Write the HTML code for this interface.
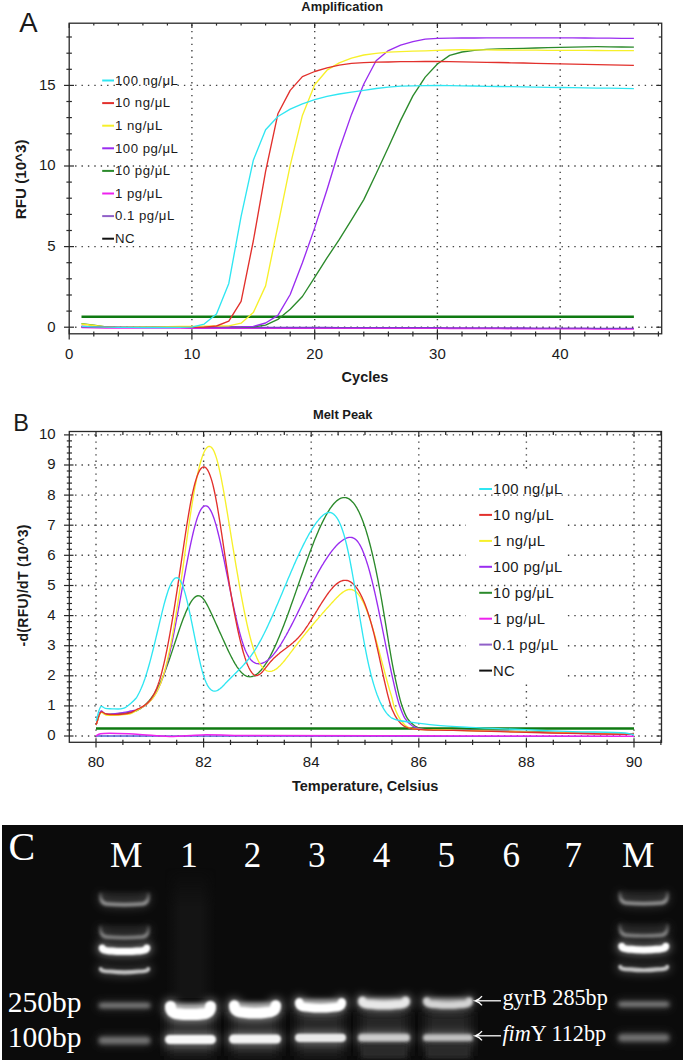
<!DOCTYPE html>
<html><head><meta charset="utf-8"><style>
html,body{margin:0;padding:0;background:#fff;width:685px;height:1063px;overflow:hidden}
svg{display:block}
</style></head><body>
<svg width="685" height="1063" viewBox="0 0 685 1063">
<defs>
<linearGradient id="lanehaze" x1="0" x2="1" y1="0" y2="0"><stop offset="0" stop-color="#141414" stop-opacity="0"/><stop offset="0.3" stop-color="#141414"/><stop offset="0.7" stop-color="#141414"/><stop offset="1" stop-color="#141414" stop-opacity="0"/></linearGradient>
<linearGradient id="vf" x1="0" x2="0" y1="0" y2="1"><stop offset="0" stop-color="#fff" stop-opacity="0"/><stop offset="0.3" stop-color="#fff"/><stop offset="1" stop-color="#fff"/></linearGradient><mask id="vfade" maskUnits="userSpaceOnUse" x="0" y="800" width="685" height="263"><rect x="0" y="868" width="685" height="130" fill="url(#vf)"/></mask>
<clipPath id="gelclip"><rect x="2" y="825" width="681" height="235"/></clipPath>
<filter id="bl1" filterUnits="userSpaceOnUse" x="0" y="800" width="685" height="263"><feGaussianBlur stdDeviation="1.3"/></filter>
<filter id="bl1b" filterUnits="userSpaceOnUse" x="0" y="800" width="685" height="263"><feGaussianBlur stdDeviation="1.7"/></filter>
<filter id="bl2" filterUnits="userSpaceOnUse" x="0" y="800" width="685" height="263"><feGaussianBlur stdDeviation="2.2"/></filter>
<filter id="bl3" filterUnits="userSpaceOnUse" x="0" y="800" width="685" height="263"><feGaussianBlur stdDeviation="4"/></filter>
<filter id="bl4" filterUnits="userSpaceOnUse" x="0" y="800" width="685" height="263"><feGaussianBlur stdDeviation="6"/></filter>
<linearGradient id="hf0" x1="0" x2="0" y1="0" y2="1"><stop offset="0" stop-color="#969696" stop-opacity="0.3"/><stop offset="0.75" stop-color="#969696" stop-opacity="1"/></linearGradient>
<linearGradient id="hf1" x1="0" x2="0" y1="0" y2="1"><stop offset="0" stop-color="#868686" stop-opacity="0.3"/><stop offset="0.75" stop-color="#868686" stop-opacity="1"/></linearGradient>
<linearGradient id="hf2" x1="0" x2="0" y1="0" y2="1"><stop offset="0" stop-color="#969696" stop-opacity="0.3"/><stop offset="0.75" stop-color="#969696" stop-opacity="1"/></linearGradient>
<linearGradient id="hf3" x1="0" x2="0" y1="0" y2="1"><stop offset="0" stop-color="#868686" stop-opacity="0.3"/><stop offset="0.75" stop-color="#868686" stop-opacity="1"/></linearGradient>
</defs>
<line x1="75.1" y1="327.2" x2="660.7" y2="327.2" stroke="#444" stroke-width="1.4" stroke-dasharray="1.4 5.0"/>
<line x1="75.1" y1="246.6" x2="660.7" y2="246.6" stroke="#444" stroke-width="1.4" stroke-dasharray="1.4 5.0"/>
<line x1="75.1" y1="166.0" x2="660.7" y2="166.0" stroke="#444" stroke-width="1.4" stroke-dasharray="1.4 5.0"/>
<line x1="75.1" y1="85.4" x2="660.7" y2="85.4" stroke="#444" stroke-width="1.4" stroke-dasharray="1.4 5.0"/>
<line x1="191.9" y1="24.5" x2="191.9" y2="332.8" stroke="#444" stroke-width="1.4" stroke-dasharray="1.4 5.0"/>
<line x1="314.7" y1="24.5" x2="314.7" y2="332.8" stroke="#444" stroke-width="1.4" stroke-dasharray="1.4 5.0"/>
<line x1="437.4" y1="24.5" x2="437.4" y2="332.8" stroke="#444" stroke-width="1.4" stroke-dasharray="1.4 5.0"/>
<line x1="560.2" y1="24.5" x2="560.2" y2="332.8" stroke="#444" stroke-width="1.4" stroke-dasharray="1.4 5.0"/>
<path d="M81.5,326.8 L93.8,327.1 L106.0,327.3 L118.3,327.4 L130.6,327.4 L142.9,327.4 L155.1,327.4 L167.4,327.4 L179.7,327.4 L191.9,327.5 L204.2,327.5 L216.5,327.5 L228.8,327.5 L241.1,327.5 L253.3,327.5 L265.6,327.5 L277.9,327.5 L290.2,327.5 L302.4,327.5 L314.7,327.5 L327.0,327.5 L339.2,327.6 L351.5,327.6 L363.8,327.6 L376.1,327.6 L388.4,327.6 L400.6,327.6 L412.9,327.6 L425.2,327.7 L437.4,327.7 L449.7,327.8 L462.0,327.8 L474.3,327.9 L486.6,327.9 L498.8,327.9 L511.1,328.0 L523.4,328.0 L535.6,328.1 L547.9,328.1 L560.2,328.1 L572.5,328.2 L584.8,328.2 L597.0,328.3 L609.3,328.3 L621.6,328.4 L633.9,328.4" fill="none" stroke="#ee22ee" stroke-width="1.6" transform="translate(0,0.6)"/>
<path d="M81.5,326.8 L93.8,327.1 L106.0,327.3 L118.3,327.4 L130.6,327.4 L142.9,327.4 L155.1,327.4 L167.4,327.4 L179.7,327.4 L191.9,327.5 L204.2,327.5 L216.5,327.5 L228.8,327.5 L241.1,327.5 L253.3,327.5 L265.6,327.5 L277.9,327.5 L290.2,327.5 L302.4,327.5 L314.7,327.5 L327.0,327.5 L339.2,327.6 L351.5,327.6 L363.8,327.6 L376.1,327.6 L388.4,327.6 L400.6,327.6 L412.9,327.6 L425.2,327.7 L437.4,327.7 L449.7,327.8 L462.0,327.8 L474.3,327.9 L486.6,327.9 L498.8,327.9 L511.1,328.0 L523.4,328.0 L535.6,328.1 L547.9,328.1 L560.2,328.1 L572.5,328.2 L584.8,328.2 L597.0,328.3 L609.3,328.3 L621.6,328.4 L633.9,328.4" fill="none" stroke="#7a3cc8" stroke-width="1.3"/>
<line x1="81.5" y1="316.7" x2="633.9" y2="316.7" stroke="#0f7a12" stroke-width="2.4"/>
<path d="M81.5,323.6 L93.8,325.2 L106.0,326.9 L118.3,327.4 L130.6,327.3 L142.9,327.3 L155.1,327.2 L167.4,327.2 L179.7,327.2 L191.9,327.1 L204.2,327.1 L216.5,327.0 L228.8,327.0 L241.1,327.0 L253.3,326.9 L265.6,325.2 L277.9,319.4 L290.2,309.2 L302.4,296.5 L314.7,277.3 L327.0,257.9 L339.2,239.7 L351.5,219.9 L363.8,199.6 L376.1,173.7 L388.4,147.3 L400.6,120.4 L412.9,95.9 L425.2,77.1 L437.4,64.0 L449.7,55.4 L462.0,52.0 L474.3,50.3 L486.6,49.4 L498.8,48.9 L511.1,48.6 L523.4,48.3 L535.6,48.0 L547.9,47.7 L560.2,47.4 L572.5,47.1 L584.8,46.8 L597.0,46.7 L609.3,46.8 L621.6,47.0 L633.9,47.2" fill="none" stroke="#2b8a2b" stroke-width="1.35" stroke-linejoin="round"/>
<path d="M81.5,326.3 L93.8,326.8 L106.0,327.2 L118.3,327.4 L130.6,327.3 L142.9,327.3 L155.1,327.2 L167.4,327.2 L179.7,327.2 L191.9,327.1 L204.2,327.1 L216.5,327.0 L228.8,327.0 L241.1,326.9 L253.3,326.4 L265.6,323.0 L277.9,315.4 L290.2,294.5 L302.4,262.8 L314.7,227.9 L327.0,189.7 L339.2,149.7 L351.5,114.4 L363.8,84.0 L376.1,60.8 L388.4,50.6 L400.6,45.1 L412.9,41.7 L425.2,39.1 L437.4,38.3 L449.7,38.1 L462.0,38.0 L474.3,38.0 L486.6,37.9 L498.8,37.9 L511.1,37.9 L523.4,37.9 L535.6,37.8 L547.9,37.8 L560.2,37.8 L572.5,37.9 L584.8,38.0 L597.0,38.1 L609.3,38.2 L621.6,38.3 L633.9,38.4" fill="none" stroke="#9a2cf0" stroke-width="1.35" stroke-linejoin="round"/>
<path d="M81.5,324.0 L93.8,325.5 L106.0,326.9 L118.3,327.3 L130.6,327.1 L142.9,327.0 L155.1,326.8 L167.4,326.6 L179.7,326.5 L191.9,326.3 L204.2,326.1 L216.5,326.0 L228.8,325.8 L241.1,323.2 L253.3,312.6 L265.6,285.9 L277.9,225.7 L290.2,165.3 L302.4,115.4 L314.7,84.8 L327.0,70.2 L339.2,62.9 L351.5,58.2 L363.8,55.0 L376.1,53.3 L388.4,52.1 L400.6,51.6 L412.9,51.2 L425.2,50.8 L437.4,50.4 L449.7,50.0 L462.0,49.7 L474.3,49.8 L486.6,49.9 L498.8,50.0 L511.1,50.1 L523.4,50.1 L535.6,50.2 L547.9,50.3 L560.2,50.3 L572.5,50.4 L584.8,50.4 L597.0,50.5 L609.3,50.6 L621.6,50.6 L633.9,50.7" fill="none" stroke="#f7f02a" stroke-width="1.35" stroke-linejoin="round"/>
<path d="M81.5,326.3 L93.8,326.6 L106.0,327.0 L118.3,327.4 L130.6,327.4 L142.9,327.4 L155.1,327.4 L167.4,327.4 L179.7,327.4 L191.9,327.4 L204.2,327.1 L216.5,326.0 L228.8,321.2 L241.1,301.4 L253.3,241.0 L265.6,171.3 L277.9,113.8 L290.2,90.4 L302.4,76.6 L314.7,71.5 L327.0,67.8 L339.2,65.1 L351.5,63.3 L363.8,62.7 L376.1,62.2 L388.4,62.0 L400.6,61.7 L412.9,61.6 L425.2,61.5 L437.4,61.5 L449.7,61.7 L462.0,61.9 L474.3,62.1 L486.6,62.3 L498.8,62.5 L511.1,62.8 L523.4,63.0 L535.6,63.3 L547.9,63.6 L560.2,63.9 L572.5,64.1 L584.8,64.3 L597.0,64.6 L609.3,64.8 L621.6,65.1 L633.9,65.3" fill="none" stroke="#e2302c" stroke-width="1.35" stroke-linejoin="round"/>
<path d="M81.5,326.3 L93.8,326.8 L106.0,327.2 L118.3,327.4 L130.6,327.4 L142.9,327.5 L155.1,327.5 L167.4,327.5 L179.7,327.4 L191.9,327.1 L204.2,324.1 L216.5,313.9 L228.8,283.4 L241.1,216.3 L253.3,160.3 L265.6,129.8 L277.9,116.5 L290.2,109.1 L302.4,103.8 L314.7,99.6 L327.0,96.4 L339.2,94.0 L351.5,92.1 L363.8,90.3 L376.1,88.5 L388.4,87.2 L400.6,86.2 L412.9,85.9 L425.2,85.6 L437.4,85.4 L449.7,85.6 L462.0,85.8 L474.3,86.0 L486.6,86.3 L498.8,86.5 L511.1,86.7 L523.4,86.9 L535.6,87.1 L547.9,87.3 L560.2,87.5 L572.5,87.7 L584.8,87.9 L597.0,88.1 L609.3,88.2 L621.6,88.4 L633.9,88.6" fill="none" stroke="#2fe6f2" stroke-width="1.35" stroke-linejoin="round"/>
<rect x="69.2" y="23.2" width="592.5" height="310.6" fill="none" stroke="#2a2a2a" stroke-width="1.3"/>
<line x1="64.0" y1="327.2" x2="74.0" y2="327.2" stroke="#2a2a2a" stroke-width="1.2"/>
<line x1="656.2" y1="327.2" x2="661.7" y2="327.2" stroke="#2a2a2a" stroke-width="1.2"/>
<line x1="66.4" y1="311.1" x2="71.9" y2="311.1" stroke="#2a2a2a" stroke-width="1.2"/>
<line x1="658.8" y1="311.1" x2="661.7" y2="311.1" stroke="#2a2a2a" stroke-width="1.2"/>
<line x1="66.4" y1="295.0" x2="71.9" y2="295.0" stroke="#2a2a2a" stroke-width="1.2"/>
<line x1="658.8" y1="295.0" x2="661.7" y2="295.0" stroke="#2a2a2a" stroke-width="1.2"/>
<line x1="66.4" y1="278.8" x2="71.9" y2="278.8" stroke="#2a2a2a" stroke-width="1.2"/>
<line x1="658.8" y1="278.8" x2="661.7" y2="278.8" stroke="#2a2a2a" stroke-width="1.2"/>
<line x1="66.4" y1="262.7" x2="71.9" y2="262.7" stroke="#2a2a2a" stroke-width="1.2"/>
<line x1="658.8" y1="262.7" x2="661.7" y2="262.7" stroke="#2a2a2a" stroke-width="1.2"/>
<line x1="64.0" y1="246.6" x2="74.0" y2="246.6" stroke="#2a2a2a" stroke-width="1.2"/>
<line x1="656.2" y1="246.6" x2="661.7" y2="246.6" stroke="#2a2a2a" stroke-width="1.2"/>
<line x1="66.4" y1="230.5" x2="71.9" y2="230.5" stroke="#2a2a2a" stroke-width="1.2"/>
<line x1="658.8" y1="230.5" x2="661.7" y2="230.5" stroke="#2a2a2a" stroke-width="1.2"/>
<line x1="66.4" y1="214.4" x2="71.9" y2="214.4" stroke="#2a2a2a" stroke-width="1.2"/>
<line x1="658.8" y1="214.4" x2="661.7" y2="214.4" stroke="#2a2a2a" stroke-width="1.2"/>
<line x1="66.4" y1="198.2" x2="71.9" y2="198.2" stroke="#2a2a2a" stroke-width="1.2"/>
<line x1="658.8" y1="198.2" x2="661.7" y2="198.2" stroke="#2a2a2a" stroke-width="1.2"/>
<line x1="66.4" y1="182.1" x2="71.9" y2="182.1" stroke="#2a2a2a" stroke-width="1.2"/>
<line x1="658.8" y1="182.1" x2="661.7" y2="182.1" stroke="#2a2a2a" stroke-width="1.2"/>
<line x1="64.0" y1="166.0" x2="74.0" y2="166.0" stroke="#2a2a2a" stroke-width="1.2"/>
<line x1="656.2" y1="166.0" x2="661.7" y2="166.0" stroke="#2a2a2a" stroke-width="1.2"/>
<line x1="66.4" y1="149.9" x2="71.9" y2="149.9" stroke="#2a2a2a" stroke-width="1.2"/>
<line x1="658.8" y1="149.9" x2="661.7" y2="149.9" stroke="#2a2a2a" stroke-width="1.2"/>
<line x1="66.4" y1="133.8" x2="71.9" y2="133.8" stroke="#2a2a2a" stroke-width="1.2"/>
<line x1="658.8" y1="133.8" x2="661.7" y2="133.8" stroke="#2a2a2a" stroke-width="1.2"/>
<line x1="66.4" y1="117.6" x2="71.9" y2="117.6" stroke="#2a2a2a" stroke-width="1.2"/>
<line x1="658.8" y1="117.6" x2="661.7" y2="117.6" stroke="#2a2a2a" stroke-width="1.2"/>
<line x1="66.4" y1="101.5" x2="71.9" y2="101.5" stroke="#2a2a2a" stroke-width="1.2"/>
<line x1="658.8" y1="101.5" x2="661.7" y2="101.5" stroke="#2a2a2a" stroke-width="1.2"/>
<line x1="64.0" y1="85.4" x2="74.0" y2="85.4" stroke="#2a2a2a" stroke-width="1.2"/>
<line x1="656.2" y1="85.4" x2="661.7" y2="85.4" stroke="#2a2a2a" stroke-width="1.2"/>
<line x1="66.4" y1="69.3" x2="71.9" y2="69.3" stroke="#2a2a2a" stroke-width="1.2"/>
<line x1="658.8" y1="69.3" x2="661.7" y2="69.3" stroke="#2a2a2a" stroke-width="1.2"/>
<line x1="66.4" y1="53.2" x2="71.9" y2="53.2" stroke="#2a2a2a" stroke-width="1.2"/>
<line x1="658.8" y1="53.2" x2="661.7" y2="53.2" stroke="#2a2a2a" stroke-width="1.2"/>
<line x1="66.4" y1="37.0" x2="71.9" y2="37.0" stroke="#2a2a2a" stroke-width="1.2"/>
<line x1="658.8" y1="37.0" x2="661.7" y2="37.0" stroke="#2a2a2a" stroke-width="1.2"/>
<line x1="69.2" y1="329.3" x2="69.2" y2="339.5" stroke="#2a2a2a" stroke-width="1.2"/>
<line x1="69.2" y1="23.2" x2="69.2" y2="28.0" stroke="#2a2a2a" stroke-width="1.2"/>
<line x1="93.8" y1="331.4" x2="93.8" y2="336.6" stroke="#2a2a2a" stroke-width="1.2"/>
<line x1="93.8" y1="23.2" x2="93.8" y2="25.6" stroke="#2a2a2a" stroke-width="1.2"/>
<line x1="118.3" y1="331.4" x2="118.3" y2="336.6" stroke="#2a2a2a" stroke-width="1.2"/>
<line x1="118.3" y1="23.2" x2="118.3" y2="25.6" stroke="#2a2a2a" stroke-width="1.2"/>
<line x1="142.9" y1="331.4" x2="142.9" y2="336.6" stroke="#2a2a2a" stroke-width="1.2"/>
<line x1="142.9" y1="23.2" x2="142.9" y2="25.6" stroke="#2a2a2a" stroke-width="1.2"/>
<line x1="167.4" y1="331.4" x2="167.4" y2="336.6" stroke="#2a2a2a" stroke-width="1.2"/>
<line x1="167.4" y1="23.2" x2="167.4" y2="25.6" stroke="#2a2a2a" stroke-width="1.2"/>
<line x1="191.9" y1="329.3" x2="191.9" y2="339.5" stroke="#2a2a2a" stroke-width="1.2"/>
<line x1="191.9" y1="23.2" x2="191.9" y2="28.0" stroke="#2a2a2a" stroke-width="1.2"/>
<line x1="216.5" y1="331.4" x2="216.5" y2="336.6" stroke="#2a2a2a" stroke-width="1.2"/>
<line x1="216.5" y1="23.2" x2="216.5" y2="25.6" stroke="#2a2a2a" stroke-width="1.2"/>
<line x1="241.1" y1="331.4" x2="241.1" y2="336.6" stroke="#2a2a2a" stroke-width="1.2"/>
<line x1="241.1" y1="23.2" x2="241.1" y2="25.6" stroke="#2a2a2a" stroke-width="1.2"/>
<line x1="265.6" y1="331.4" x2="265.6" y2="336.6" stroke="#2a2a2a" stroke-width="1.2"/>
<line x1="265.6" y1="23.2" x2="265.6" y2="25.6" stroke="#2a2a2a" stroke-width="1.2"/>
<line x1="290.2" y1="331.4" x2="290.2" y2="336.6" stroke="#2a2a2a" stroke-width="1.2"/>
<line x1="290.2" y1="23.2" x2="290.2" y2="25.6" stroke="#2a2a2a" stroke-width="1.2"/>
<line x1="314.7" y1="329.3" x2="314.7" y2="339.5" stroke="#2a2a2a" stroke-width="1.2"/>
<line x1="314.7" y1="23.2" x2="314.7" y2="28.0" stroke="#2a2a2a" stroke-width="1.2"/>
<line x1="339.2" y1="331.4" x2="339.2" y2="336.6" stroke="#2a2a2a" stroke-width="1.2"/>
<line x1="339.2" y1="23.2" x2="339.2" y2="25.6" stroke="#2a2a2a" stroke-width="1.2"/>
<line x1="363.8" y1="331.4" x2="363.8" y2="336.6" stroke="#2a2a2a" stroke-width="1.2"/>
<line x1="363.8" y1="23.2" x2="363.8" y2="25.6" stroke="#2a2a2a" stroke-width="1.2"/>
<line x1="388.4" y1="331.4" x2="388.4" y2="336.6" stroke="#2a2a2a" stroke-width="1.2"/>
<line x1="388.4" y1="23.2" x2="388.4" y2="25.6" stroke="#2a2a2a" stroke-width="1.2"/>
<line x1="412.9" y1="331.4" x2="412.9" y2="336.6" stroke="#2a2a2a" stroke-width="1.2"/>
<line x1="412.9" y1="23.2" x2="412.9" y2="25.6" stroke="#2a2a2a" stroke-width="1.2"/>
<line x1="437.4" y1="329.3" x2="437.4" y2="339.5" stroke="#2a2a2a" stroke-width="1.2"/>
<line x1="437.4" y1="23.2" x2="437.4" y2="28.0" stroke="#2a2a2a" stroke-width="1.2"/>
<line x1="462.0" y1="331.4" x2="462.0" y2="336.6" stroke="#2a2a2a" stroke-width="1.2"/>
<line x1="462.0" y1="23.2" x2="462.0" y2="25.6" stroke="#2a2a2a" stroke-width="1.2"/>
<line x1="486.6" y1="331.4" x2="486.6" y2="336.6" stroke="#2a2a2a" stroke-width="1.2"/>
<line x1="486.6" y1="23.2" x2="486.6" y2="25.6" stroke="#2a2a2a" stroke-width="1.2"/>
<line x1="511.1" y1="331.4" x2="511.1" y2="336.6" stroke="#2a2a2a" stroke-width="1.2"/>
<line x1="511.1" y1="23.2" x2="511.1" y2="25.6" stroke="#2a2a2a" stroke-width="1.2"/>
<line x1="535.6" y1="331.4" x2="535.6" y2="336.6" stroke="#2a2a2a" stroke-width="1.2"/>
<line x1="535.6" y1="23.2" x2="535.6" y2="25.6" stroke="#2a2a2a" stroke-width="1.2"/>
<line x1="560.2" y1="329.3" x2="560.2" y2="339.5" stroke="#2a2a2a" stroke-width="1.2"/>
<line x1="560.2" y1="23.2" x2="560.2" y2="28.0" stroke="#2a2a2a" stroke-width="1.2"/>
<line x1="584.8" y1="331.4" x2="584.8" y2="336.6" stroke="#2a2a2a" stroke-width="1.2"/>
<line x1="584.8" y1="23.2" x2="584.8" y2="25.6" stroke="#2a2a2a" stroke-width="1.2"/>
<line x1="609.3" y1="331.4" x2="609.3" y2="336.6" stroke="#2a2a2a" stroke-width="1.2"/>
<line x1="609.3" y1="23.2" x2="609.3" y2="25.6" stroke="#2a2a2a" stroke-width="1.2"/>
<line x1="633.9" y1="331.4" x2="633.9" y2="336.6" stroke="#2a2a2a" stroke-width="1.2"/>
<line x1="633.9" y1="23.2" x2="633.9" y2="25.6" stroke="#2a2a2a" stroke-width="1.2"/>
<line x1="658.4" y1="331.4" x2="658.4" y2="336.6" stroke="#2a2a2a" stroke-width="1.2"/>
<line x1="658.4" y1="23.2" x2="658.4" y2="25.6" stroke="#2a2a2a" stroke-width="1.2"/>
<text x="55.6" y="331.6" font-family="Liberation Sans" font-size="15" font-weight="normal" text-anchor="end" fill="#1a1a1a" >0</text>
<text x="55.6" y="251.0" font-family="Liberation Sans" font-size="15" font-weight="normal" text-anchor="end" fill="#1a1a1a" >5</text>
<text x="55.6" y="170.4" font-family="Liberation Sans" font-size="15" font-weight="normal" text-anchor="end" fill="#1a1a1a" >10</text>
<text x="55.6" y="89.8" font-family="Liberation Sans" font-size="15" font-weight="normal" text-anchor="end" fill="#1a1a1a" >15</text>
<text x="69.2" y="358.8" font-family="Liberation Sans" font-size="15" font-weight="normal" text-anchor="middle" fill="#1a1a1a" >0</text>
<text x="191.9" y="358.8" font-family="Liberation Sans" font-size="15" font-weight="normal" text-anchor="middle" fill="#1a1a1a" >10</text>
<text x="314.7" y="358.8" font-family="Liberation Sans" font-size="15" font-weight="normal" text-anchor="middle" fill="#1a1a1a" >20</text>
<text x="437.4" y="358.8" font-family="Liberation Sans" font-size="15" font-weight="normal" text-anchor="middle" fill="#1a1a1a" >30</text>
<text x="560.2" y="358.8" font-family="Liberation Sans" font-size="15" font-weight="normal" text-anchor="middle" fill="#1a1a1a" >40</text>
<text x="342.2" y="10.5" font-family="Liberation Sans" font-size="12.9" font-weight="bold" text-anchor="middle" fill="#1a1a1a" >Amplification</text>
<text x="19.2" y="31.5" font-family="Liberation Sans" font-size="27.5" font-weight="normal" text-anchor="start" fill="#1a1a1a" >A</text>
<text x="365.0" y="381.5" font-family="Liberation Sans" font-size="14.5" font-weight="bold" text-anchor="middle" fill="#1a1a1a" >Cycles</text>
<text x="0.0" y="0.0" font-family="Liberation Sans" font-size="15.2" font-weight="bold" text-anchor="middle" fill="#1a1a1a" transform="translate(26.2,179.4) rotate(-90)">RFU (10^3)</text>
<line x1="102.2" y1="80.5" x2="114.0" y2="80.5" stroke="#2fe6f2" stroke-width="2"/>
<text x="115.0" y="84.7" font-family="Liberation Sans" font-size="13.2" font-weight="normal" text-anchor="start" fill="#1a1a1a" letter-spacing="0.5">100 ng/&#956;L</text>
<line x1="102.2" y1="103.1" x2="114.0" y2="103.1" stroke="#e2302c" stroke-width="2"/>
<text x="115.0" y="107.3" font-family="Liberation Sans" font-size="13.2" font-weight="normal" text-anchor="start" fill="#1a1a1a" letter-spacing="0.5">10 ng/&#956;L</text>
<line x1="102.2" y1="125.7" x2="114.0" y2="125.7" stroke="#f7f02a" stroke-width="2"/>
<text x="115.0" y="129.9" font-family="Liberation Sans" font-size="13.2" font-weight="normal" text-anchor="start" fill="#1a1a1a" letter-spacing="0.5">1 ng/&#956;L</text>
<line x1="102.2" y1="148.3" x2="114.0" y2="148.3" stroke="#9a2cf0" stroke-width="2"/>
<text x="115.0" y="152.5" font-family="Liberation Sans" font-size="13.2" font-weight="normal" text-anchor="start" fill="#1a1a1a" letter-spacing="0.5">100 pg/&#956;L</text>
<line x1="102.2" y1="170.9" x2="114.0" y2="170.9" stroke="#2b8a2b" stroke-width="2"/>
<text x="115.0" y="175.1" font-family="Liberation Sans" font-size="13.2" font-weight="normal" text-anchor="start" fill="#1a1a1a" letter-spacing="0.5">10 pg/&#956;L</text>
<line x1="102.2" y1="193.5" x2="114.0" y2="193.5" stroke="#ee22ee" stroke-width="2"/>
<text x="115.0" y="197.7" font-family="Liberation Sans" font-size="13.2" font-weight="normal" text-anchor="start" fill="#1a1a1a" letter-spacing="0.5">1 pg/&#956;L</text>
<line x1="102.2" y1="216.1" x2="114.0" y2="216.1" stroke="#9060c8" stroke-width="2"/>
<text x="115.0" y="220.3" font-family="Liberation Sans" font-size="13.2" font-weight="normal" text-anchor="start" fill="#1a1a1a" letter-spacing="0.5">0.1 pg/&#956;L</text>
<line x1="102.2" y1="238.7" x2="114.0" y2="238.7" stroke="#111" stroke-width="2"/>
<text x="115.0" y="242.9" font-family="Liberation Sans" font-size="13.2" font-weight="normal" text-anchor="start" fill="#1a1a1a" letter-spacing="0.5">NC</text>
<line x1="75.1" y1="736.0" x2="660.5" y2="736.0" stroke="#444" stroke-width="1.4" stroke-dasharray="1.4 5.0"/>
<line x1="75.1" y1="705.9" x2="660.5" y2="705.9" stroke="#444" stroke-width="1.4" stroke-dasharray="1.4 5.0"/>
<line x1="75.1" y1="675.8" x2="660.5" y2="675.8" stroke="#444" stroke-width="1.4" stroke-dasharray="1.4 5.0"/>
<line x1="75.1" y1="645.7" x2="660.5" y2="645.7" stroke="#444" stroke-width="1.4" stroke-dasharray="1.4 5.0"/>
<line x1="75.1" y1="615.6" x2="660.5" y2="615.6" stroke="#444" stroke-width="1.4" stroke-dasharray="1.4 5.0"/>
<line x1="75.1" y1="585.5" x2="660.5" y2="585.5" stroke="#444" stroke-width="1.4" stroke-dasharray="1.4 5.0"/>
<line x1="75.1" y1="555.3" x2="660.5" y2="555.3" stroke="#444" stroke-width="1.4" stroke-dasharray="1.4 5.0"/>
<line x1="75.1" y1="525.2" x2="660.5" y2="525.2" stroke="#444" stroke-width="1.4" stroke-dasharray="1.4 5.0"/>
<line x1="75.1" y1="495.1" x2="660.5" y2="495.1" stroke="#444" stroke-width="1.4" stroke-dasharray="1.4 5.0"/>
<line x1="75.1" y1="465.0" x2="660.5" y2="465.0" stroke="#444" stroke-width="1.4" stroke-dasharray="1.4 5.0"/>
<line x1="75.1" y1="434.9" x2="660.5" y2="434.9" stroke="#444" stroke-width="1.4" stroke-dasharray="1.4 5.0"/>
<line x1="96.0" y1="435.0" x2="96.0" y2="741.3" stroke="#444" stroke-width="1.4" stroke-dasharray="1.4 5.0"/>
<line x1="203.6" y1="435.0" x2="203.6" y2="741.3" stroke="#444" stroke-width="1.4" stroke-dasharray="1.4 5.0"/>
<line x1="311.2" y1="435.0" x2="311.2" y2="741.3" stroke="#444" stroke-width="1.4" stroke-dasharray="1.4 5.0"/>
<line x1="418.8" y1="435.0" x2="418.8" y2="741.3" stroke="#444" stroke-width="1.4" stroke-dasharray="1.4 5.0"/>
<line x1="526.4" y1="435.0" x2="526.4" y2="741.3" stroke="#444" stroke-width="1.4" stroke-dasharray="1.4 5.0"/>
<line x1="634.0" y1="435.0" x2="634.0" y2="741.3" stroke="#444" stroke-width="1.4" stroke-dasharray="1.4 5.0"/>
<rect x="466" y="469" width="101" height="214" fill="#fff"/>
<line x1="465.5" y1="585.5" x2="567.0" y2="585.5" stroke="#444" stroke-width="1.4" stroke-dasharray="1.4 5.0"/>
<line x1="465.5" y1="495.1" x2="567.0" y2="495.1" stroke="#444" stroke-width="1.4" stroke-dasharray="1.4 5.0"/>
<line x1="96.0" y1="736.0" x2="634.0" y2="736.3" stroke="#5060d0" stroke-width="1.4"/>
<path d="M95.8,736.0 C97.4,735.2 98.1,734.2 100.5,733.7 C106.8,732.3 124.9,733.7 136.7,734.2 C147.9,734.7 158.5,736.4 169.4,736.5 C180.3,736.6 190.1,735.1 202.0,734.9 C216.5,734.7 229.6,735.4 250.0,735.6 C286.1,735.9 344.5,735.7 400.0,735.8 C469.4,735.9 556.0,736.1 634.0,736.2" fill="none" stroke="#ee22ee" stroke-width="1.5"/>
<line x1="96.0" y1="728.5" x2="634.0" y2="728.5" stroke="#0f7a12" stroke-width="2.4"/>
<path d="M96.1,725.0 C97.8,720.5 99.1,712.2 101.2,711.5 C102.4,711.1 103.2,713.5 105.0,714.0 C108.3,714.9 115.5,713.8 120.0,713.5 C123.7,713.3 127.1,713.0 130.0,712.5 C132.3,712.1 134.4,711.5 136.0,710.9 C137.2,710.5 138.0,709.9 139.0,709.4 L140.0,708.8 L141.0,708.2 L142.0,707.5 L143.0,706.7 L144.0,705.9 L145.0,705.0 L146.0,704.1 L147.0,703.1 L148.0,702.0 L149.0,700.9 L150.0,699.6 L151.0,698.4 L152.0,697.0 L153.0,695.5 L154.0,694.0 L155.0,692.4 L156.0,690.7 L157.0,689.0 L158.0,687.1 L159.0,685.2 L160.0,683.1 L161.0,681.0 L162.0,678.8 L163.0,676.4 L164.0,674.0 L165.0,671.5 L166.0,668.8 L167.0,666.1 L168.0,663.3 L169.0,660.5 L170.0,657.6 L171.0,654.6 L172.0,651.6 L173.0,648.6 L174.0,645.6 L175.0,642.5 L176.0,639.5 L177.0,636.5 L178.0,633.5 L179.0,630.5 L180.0,627.6 L181.0,624.8 L182.0,622.0 L183.0,619.3 L184.0,616.7 L185.0,614.2 L186.0,611.8 L187.0,609.6 L188.0,607.4 L189.0,605.4 L190.0,603.6 L191.0,601.9 L192.0,600.4 L193.0,599.1 L194.0,598.0 L195.0,597.1 L196.0,596.4 L197.0,596.0 L198.0,595.7 L199.0,595.8 L200.0,596.0 L201.0,596.6 L202.0,597.4 L203.0,598.5 L204.0,599.7 L205.0,601.2 L206.0,602.8 L207.0,604.6 L208.0,606.5 L209.0,608.5 L210.0,610.6 L211.0,612.8 L212.0,614.9 L213.0,617.1 L214.0,619.3 L215.0,621.5 L216.0,623.7 L217.0,625.9 L218.0,628.1 L219.0,630.4 L220.0,632.6 L221.0,634.8 L222.0,637.0 L223.0,639.2 L224.0,641.4 L225.0,643.6 L226.0,645.8 L227.0,648.0 L228.0,650.1 L229.0,652.2 L230.0,654.2 L231.0,656.2 L232.0,658.1 L233.0,660.0 L234.0,661.8 L235.0,663.6 L236.0,665.2 L237.0,666.8 L238.0,668.2 L239.0,669.6 L240.0,670.9 L241.0,672.0 L242.0,673.0 L243.0,673.9 L244.0,674.7 L245.0,675.4 L246.0,675.9 L247.0,676.3 L248.0,676.6 L249.0,676.7 L250.0,676.8 L251.0,676.7 L252.0,676.5 L253.0,676.2 L254.0,675.8 L255.0,675.3 L256.0,674.7 L257.0,674.0 L258.0,673.2 L259.0,672.3 L260.0,671.2 L261.0,670.2 L262.0,669.0 L263.0,667.7 L264.0,666.3 L265.0,664.9 L266.0,663.4 L267.0,661.8 L268.0,660.1 L269.0,658.3 L270.0,656.5 L271.0,654.6 L272.0,652.6 L273.0,650.6 L274.0,648.5 L275.0,646.4 L276.0,644.2 L277.0,641.9 L278.0,639.6 L279.0,637.2 L280.0,634.8 L281.0,632.3 L282.0,629.8 L283.0,627.3 L284.0,624.7 L285.0,622.0 L286.0,619.4 L287.0,616.7 L288.0,613.9 L289.0,611.2 L290.0,608.4 L291.0,605.6 L292.0,602.8 L293.0,600.0 L294.0,597.1 L295.0,594.3 L296.0,591.4 L297.0,588.5 L298.0,585.7 L299.0,582.8 L300.0,579.9 L301.0,577.1 L302.0,574.2 L303.0,571.4 L304.0,568.5 L305.0,565.7 L306.0,562.9 L307.0,560.2 L308.0,557.4 L309.0,554.7 L310.0,552.0 L311.0,549.4 L312.0,546.8 L313.0,544.2 L314.0,541.6 L315.0,539.1 L316.0,536.7 L317.0,534.3 L318.0,531.9 L319.0,529.6 L320.0,527.4 L321.0,525.2 L322.0,523.1 L323.0,521.1 L324.0,519.1 L325.0,517.2 L326.0,515.3 L327.0,513.6 L328.0,511.9 L329.0,510.3 L330.0,508.7 L331.0,507.3 L332.0,506.0 L333.0,504.7 L334.0,503.5 L335.0,502.5 L336.0,501.5 L337.0,500.6 L338.0,499.9 L339.0,499.2 L340.0,498.6 L341.0,498.2 L342.0,497.9 L343.0,497.7 L344.0,497.6 L345.0,497.6 L346.0,497.7 L347.0,498.0 L348.0,498.4 L349.0,498.9 L350.0,499.6 L351.0,500.4 L352.0,501.4 L353.0,502.4 L354.0,503.7 L355.0,505.0 L356.0,506.6 L357.0,508.2 L358.0,510.1 L359.0,512.0 L360.0,514.2 L361.0,516.5 L362.0,519.0 L363.0,521.6 L364.0,524.4 L365.0,527.3 L366.0,530.4 L367.0,533.7 L368.0,537.1 L369.0,540.7 L370.0,544.5 L371.0,548.4 L372.0,552.5 L373.0,556.7 L374.0,561.1 L375.0,565.7 L376.0,570.4 L377.0,575.3 L378.0,580.4 L379.0,585.6 L380.0,591.0 L381.0,596.5 L382.0,602.2 L383.0,608.1 L384.0,614.1 L385.0,620.1 L386.0,626.2 L387.0,632.4 L388.0,638.5 L389.0,644.6 C390.0,650.5 391.0,656.7 392.0,662.2 C392.9,667.0 393.5,670.5 394.7,675.8 C396.4,683.5 398.9,696.2 401.4,704.0 C403.3,709.7 404.9,714.7 407.5,718.6 C409.6,721.7 412.3,724.3 414.9,726.0 C417.1,727.5 418.8,728.1 422.0,728.8 C428.2,730.1 438.6,729.5 450.0,729.8 C468.1,730.3 494.3,730.9 520.0,731.5 C551.5,732.2 609.1,733.9 625.0,733.8 C629.6,733.8 631.0,733.6 634.0,733.5" fill="none" stroke="#2b8a2b" stroke-width="1.35" stroke-linejoin="round"/>
<path d="M96.1,725.0 C97.8,720.3 99.2,711.6 101.2,711.0 C102.4,710.7 103.1,713.4 105.0,714.0 C108.8,715.1 118.9,713.2 123.7,712.5 C126.7,712.1 128.7,711.4 130.9,711.0 C132.7,710.7 134.5,710.5 136.0,710.1 C137.2,709.8 138.0,709.3 139.0,708.9 L140.0,708.4 L141.0,707.9 L142.0,707.3 L143.0,706.7 L144.0,706.1 L145.0,705.4 L146.0,704.7 L147.0,703.9 L148.0,703.0 L149.0,702.1 L150.0,701.1 L151.0,700.0 L152.0,698.8 L153.0,697.5 L154.0,696.1 L155.0,694.6 L156.0,692.9 L157.0,691.1 L158.0,689.2 L159.0,687.1 L160.0,684.8 L161.0,682.4 L162.0,679.8 L163.0,677.0 L164.0,674.0 L165.0,670.8 L166.0,667.4 L167.0,663.7 L168.0,659.9 L169.0,655.8 L170.0,651.5 L171.0,647.0 L172.0,642.3 L173.0,637.5 L174.0,632.5 L175.0,627.4 L176.0,622.2 L177.0,616.9 L178.0,611.5 L179.0,606.1 L180.0,600.6 L181.0,595.1 L182.0,589.5 L183.0,584.0 L184.0,578.5 L185.0,573.1 L186.0,567.7 L187.0,562.4 L188.0,557.2 L189.0,552.1 L190.0,547.2 L191.0,542.4 L192.0,537.9 L193.0,533.5 L194.0,529.4 L195.0,525.6 L196.0,522.1 L197.0,518.8 L198.0,515.9 L199.0,513.4 L200.0,511.2 L201.0,509.4 L202.0,507.9 L203.0,506.9 L204.0,506.1 L205.0,505.8 L206.0,505.8 L207.0,506.1 L208.0,506.8 L209.0,507.9 L210.0,509.3 L211.0,511.1 L212.0,513.2 L213.0,515.7 L214.0,518.4 L215.0,521.6 L216.0,524.9 L217.0,528.6 L218.0,532.5 L219.0,536.6 L220.0,540.9 L221.0,545.4 L222.0,550.0 L223.0,554.8 L224.0,559.6 L225.0,564.5 L226.0,569.5 L227.0,574.5 L228.0,579.4 L229.0,584.4 L230.0,589.4 L231.0,594.3 L232.0,599.1 L233.0,603.9 L234.0,608.6 L235.0,613.1 L236.0,617.6 L237.0,621.9 L238.0,626.1 L239.0,630.0 L240.0,633.8 L241.0,637.4 L242.0,640.8 L243.0,643.9 L244.0,646.8 L245.0,649.4 L246.0,651.7 L247.0,653.8 L248.0,655.7 L249.0,657.3 L250.0,658.7 L251.0,659.9 L252.0,660.9 L253.0,661.7 L254.0,662.4 L255.0,662.9 L256.0,663.3 L257.0,663.6 L258.0,663.7 L259.0,663.7 L260.0,663.7 L261.0,663.5 L262.0,663.3 L263.0,662.9 L264.0,662.5 L265.0,662.0 L266.0,661.4 L267.0,660.7 L268.0,660.0 L269.0,659.1 L270.0,658.2 L271.0,657.2 L272.0,656.2 L273.0,655.1 L274.0,653.9 L275.0,652.6 L276.0,651.3 L277.0,650.0 L278.0,648.5 L279.0,647.1 L280.0,645.5 L281.0,644.0 L282.0,642.3 L283.0,640.7 L284.0,639.0 L285.0,637.2 L286.0,635.5 L287.0,633.6 L288.0,631.8 L289.0,629.9 L290.0,628.0 L291.0,626.1 L292.0,624.1 L293.0,622.2 L294.0,620.2 L295.0,618.2 L296.0,616.2 L297.0,614.2 L298.0,612.1 L299.0,610.1 L300.0,608.0 L301.0,606.0 L302.0,604.0 L303.0,601.9 L304.0,599.9 L305.0,597.9 L306.0,595.8 L307.0,593.8 L308.0,591.8 L309.0,589.8 L310.0,587.9 L311.0,585.9 L312.0,583.9 L313.0,582.0 L314.0,580.1 L315.0,578.2 L316.0,576.4 L317.0,574.5 L318.0,572.7 L319.0,570.9 L320.0,569.2 L321.0,567.4 L322.0,565.7 L323.0,564.1 L324.0,562.4 L325.0,560.8 L326.0,559.3 L327.0,557.8 L328.0,556.3 L329.0,554.8 L330.0,553.5 L331.0,552.1 L332.0,550.8 L333.0,549.6 L334.0,548.4 L335.0,547.2 L336.0,546.1 L337.0,545.1 L338.0,544.1 L339.0,543.1 L340.0,542.3 L341.0,541.5 L342.0,540.7 L343.0,540.0 L344.0,539.4 L345.0,538.8 L346.0,538.3 L347.0,537.9 L348.0,537.6 L349.0,537.4 L350.0,537.3 L351.0,537.3 L352.0,537.5 L353.0,537.8 L354.0,538.3 L355.0,538.9 L356.0,539.8 L357.0,540.8 L358.0,542.0 L359.0,543.5 L360.0,545.1 L361.0,547.0 L362.0,549.1 L363.0,551.4 L364.0,553.9 L365.0,556.7 L366.0,559.6 L367.0,562.7 L368.0,565.9 L369.0,569.4 L370.0,573.0 L371.0,576.8 L372.0,580.7 L373.0,584.8 L374.0,589.0 L375.0,593.4 L376.0,597.9 L377.0,602.5 L378.0,607.2 L379.0,612.0 L380.0,616.8 L381.0,621.7 L382.0,626.7 L383.0,631.7 L384.0,636.6 L385.0,641.6 L386.0,646.6 L387.0,651.5 L388.0,656.4 L389.0,661.3 C390.0,665.9 390.7,669.8 392.0,675.3 C393.8,683.2 396.4,696.1 399.0,704.0 C400.9,709.8 402.5,714.7 405.1,718.6 C407.2,721.7 409.7,724.3 412.4,726.0 C414.8,727.5 416.6,728.1 420.0,728.8 C426.6,730.1 437.9,729.6 450.0,730.0 C468.5,730.6 494.3,731.2 520.0,731.8 C551.5,732.5 609.1,734.0 625.0,734.0 C629.6,734.0 631.0,733.9 634.0,733.8" fill="none" stroke="#9a2cf0" stroke-width="1.35" stroke-linejoin="round"/>
<path d="M96.1,725.0 C97.8,720.8 99.0,713.3 101.2,712.5 C102.6,712.0 103.9,714.5 106.0,715.0 C109.4,715.8 115.6,715.3 120.0,715.0 C123.9,714.8 128.0,714.6 130.9,713.7 C133.0,713.0 134.5,711.6 136.0,710.8 C137.1,710.2 138.0,709.8 139.0,709.2 L140.0,708.6 L141.0,708.0 L142.0,707.4 L143.0,706.7 L144.0,706.1 L145.0,705.4 L146.0,704.6 L147.0,703.9 L148.0,703.0 L149.0,702.2 L150.0,701.2 L151.0,700.2 L152.0,699.1 L153.0,697.8 L154.0,696.4 L155.0,694.9 L156.0,693.3 L157.0,691.5 L158.0,689.5 L159.0,687.3 L160.0,685.0 L161.0,682.4 L162.0,679.6 L163.0,676.5 L164.0,673.2 L165.0,669.7 L166.0,665.9 L167.0,661.8 L168.0,657.5 L169.0,652.9 L170.0,648.1 L171.0,643.0 L172.0,637.8 L173.0,632.3 L174.0,626.6 L175.0,620.7 L176.0,614.6 L177.0,608.3 L178.0,601.9 L179.0,595.2 L180.0,588.4 L181.0,581.4 L182.0,574.4 L183.0,567.2 L184.0,560.0 L185.0,552.7 L186.0,545.5 L187.0,538.4 L188.0,531.3 L189.0,524.3 L190.0,517.5 L191.0,510.9 L192.0,504.5 L193.0,498.4 L194.0,492.5 L195.0,487.0 L196.0,481.8 L197.0,476.9 L198.0,472.3 L199.0,468.1 L200.0,464.2 L201.0,460.7 L202.0,457.5 L203.0,454.7 L204.0,452.3 L205.0,450.3 L206.0,448.7 L207.0,447.5 L208.0,446.7 L209.0,446.4 L210.0,446.5 L211.0,447.0 L212.0,448.0 L213.0,449.4 L214.0,451.3 L215.0,453.7 L216.0,456.6 L217.0,459.9 L218.0,463.7 L219.0,467.8 L220.0,472.3 L221.0,477.2 L222.0,482.3 L223.0,487.6 L224.0,493.2 L225.0,499.0 L226.0,504.9 L227.0,510.9 L228.0,517.0 L229.0,523.1 L230.0,529.2 L231.0,535.3 L232.0,541.5 L233.0,547.6 L234.0,553.6 L235.0,559.6 L236.0,565.6 L237.0,571.4 L238.0,577.2 L239.0,583.0 L240.0,588.6 L241.0,594.1 L242.0,599.4 L243.0,604.7 L244.0,609.8 L245.0,614.7 L246.0,619.5 L247.0,624.1 L248.0,628.5 L249.0,632.7 L250.0,636.7 L251.0,640.5 L252.0,644.0 L253.0,647.3 L254.0,650.3 L255.0,653.2 L256.0,655.7 L257.0,658.1 L258.0,660.2 L259.0,662.2 L260.0,663.9 L261.0,665.4 L262.0,666.8 L263.0,667.9 L264.0,668.9 L265.0,669.7 L266.0,670.3 L267.0,670.8 L268.0,671.1 L269.0,671.3 L270.0,671.4 L271.0,671.3 L272.0,671.1 L273.0,670.7 L274.0,670.3 L275.0,669.7 L276.0,669.1 L277.0,668.4 L278.0,667.5 L279.0,666.6 L280.0,665.7 L281.0,664.6 L282.0,663.5 L283.0,662.4 L284.0,661.2 L285.0,660.0 L286.0,658.7 L287.0,657.4 L288.0,656.1 L289.0,654.8 L290.0,653.4 L291.0,652.1 L292.0,650.8 L293.0,649.5 L294.0,648.2 L295.0,646.9 L296.0,645.6 L297.0,644.3 L298.0,643.0 L299.0,641.7 L300.0,640.5 L301.0,639.2 L302.0,637.9 L303.0,636.7 L304.0,635.4 L305.0,634.2 L306.0,632.9 L307.0,631.7 L308.0,630.5 L309.0,629.3 L310.0,628.1 L311.0,626.9 L312.0,625.7 L313.0,624.5 L314.0,623.3 L315.0,622.1 L316.0,620.9 L317.0,619.7 L318.0,618.6 L319.0,617.4 L320.0,616.2 L321.0,615.1 L322.0,613.9 L323.0,612.8 L324.0,611.7 L325.0,610.5 L326.0,609.4 L327.0,608.3 L328.0,607.2 L329.0,606.1 L330.0,605.0 L331.0,603.9 L332.0,602.8 L333.0,601.7 L334.0,600.6 L335.0,599.5 L336.0,598.5 L337.0,597.4 L338.0,596.4 L339.0,595.5 L340.0,594.6 L341.0,593.7 L342.0,592.9 L343.0,592.1 L344.0,591.5 L345.0,590.9 L346.0,590.4 L347.0,590.0 L348.0,589.7 L349.0,589.5 L350.0,589.5 L351.0,589.5 L352.0,589.7 L353.0,590.0 L354.0,590.5 L355.0,591.1 L356.0,591.8 L357.0,592.8 L358.0,593.9 L359.0,595.1 L360.0,596.5 L361.0,598.1 L362.0,599.9 L363.0,601.8 L364.0,603.8 L365.0,606.0 L366.0,608.4 L367.0,611.0 L368.0,613.7 L369.0,616.5 L370.0,619.5 L371.0,622.7 L372.0,625.9 L373.0,629.2 L374.0,632.6 L375.0,636.2 L376.0,639.7 L377.0,643.4 L378.0,647.1 L379.0,650.8 L380.0,654.6 L381.0,658.4 L382.0,662.1 L383.0,665.9 L384.0,669.7 L385.0,673.4 L386.0,677.1 L387.0,680.8 L388.0,684.4 L389.0,687.9 C390.0,691.3 391.1,694.8 392.0,698.0 C392.8,700.9 393.0,703.3 394.1,706.4 C395.7,710.7 398.6,717.4 401.4,721.1 C403.6,724.0 404.9,726.0 408.7,727.6 C416.6,730.9 434.4,729.3 450.0,730.0 C470.3,730.8 494.3,731.2 520.0,731.8 C551.5,732.5 609.1,734.0 625.0,734.0 C629.6,734.0 631.0,733.9 634.0,733.8" fill="none" stroke="#f7f02a" stroke-width="1.35" stroke-linejoin="round"/>
<path d="M96.1,724.8 C97.8,720.5 98.9,713.0 101.2,712.0 C102.7,711.4 104.0,713.6 106.3,714.0 C110.3,714.8 119.2,714.5 123.7,714.0 C126.6,713.7 128.7,713.2 130.9,712.5 C132.8,711.8 134.5,710.7 136.0,710.0 C137.1,709.4 138.0,709.0 139.0,708.5 L140.0,708.0 L141.0,707.4 L142.0,706.9 L143.0,706.3 L144.0,705.7 L145.0,705.0 L146.0,704.2 L147.0,703.4 L148.0,702.5 L149.0,701.4 L150.0,700.3 L151.0,699.0 L152.0,697.5 L153.0,695.9 L154.0,694.1 L155.0,692.1 L156.0,689.9 L157.0,687.4 L158.0,684.8 L159.0,681.9 L160.0,678.7 L161.0,675.2 L162.0,671.5 L163.0,667.5 L164.0,663.3 L165.0,658.9 L166.0,654.2 L167.0,649.3 L168.0,644.1 L169.0,638.8 L170.0,633.4 L171.0,627.7 L172.0,621.9 L173.0,615.9 L174.0,609.8 L175.0,603.6 L176.0,597.2 L177.0,590.8 L178.0,584.2 L179.0,577.6 L180.0,570.8 L181.0,564.1 L182.0,557.2 L183.0,550.4 L184.0,543.7 L185.0,537.0 L186.0,530.4 L187.0,524.0 L188.0,517.8 L189.0,511.8 L190.0,506.1 L191.0,500.7 L192.0,495.7 L193.0,491.1 L194.0,486.8 L195.0,483.0 L196.0,479.6 L197.0,476.5 L198.0,473.9 L199.0,471.7 L200.0,469.9 L201.0,468.5 L202.0,467.5 L203.0,467.0 L204.0,466.9 L205.0,467.2 L206.0,467.9 L207.0,469.1 L208.0,470.7 L209.0,472.7 L210.0,475.2 L211.0,478.1 L212.0,481.4 L213.0,485.2 L214.0,489.5 L215.0,494.2 L216.0,499.3 L217.0,504.7 L218.0,510.5 L219.0,516.6 L220.0,522.8 L221.0,529.3 L222.0,535.9 L223.0,542.6 L224.0,549.3 L225.0,556.0 L226.0,562.7 L227.0,569.2 L228.0,575.6 L229.0,581.9 L230.0,588.0 L231.0,594.0 L232.0,599.8 L233.0,605.4 L234.0,610.9 L235.0,616.1 L236.0,621.2 L237.0,626.1 L238.0,630.8 L239.0,635.3 L240.0,639.6 L241.0,643.7 L242.0,647.5 L243.0,651.2 L244.0,654.6 L245.0,657.8 L246.0,660.7 L247.0,663.4 L248.0,665.8 L249.0,668.0 L250.0,669.9 L251.0,671.5 L252.0,672.9 L253.0,674.0 L254.0,674.8 L255.0,675.3 L256.0,675.6 L257.0,675.5 L258.0,675.2 L259.0,674.7 L260.0,674.0 L261.0,673.2 L262.0,672.2 L263.0,671.1 L264.0,669.9 L265.0,668.6 L266.0,667.3 L267.0,666.1 L268.0,664.8 L269.0,663.6 L270.0,662.4 L271.0,661.3 L272.0,660.2 L273.0,659.1 L274.0,658.1 L275.0,657.2 L276.0,656.3 L277.0,655.4 L278.0,654.5 L279.0,653.7 L280.0,652.8 L281.0,652.0 L282.0,651.3 L283.0,650.5 L284.0,649.7 L285.0,649.0 L286.0,648.2 L287.0,647.5 L288.0,646.7 L289.0,645.9 L290.0,645.2 L291.0,644.4 L292.0,643.5 L293.0,642.7 L294.0,641.8 L295.0,640.9 L296.0,640.0 L297.0,639.0 L298.0,638.0 L299.0,636.9 L300.0,635.8 L301.0,634.6 L302.0,633.4 L303.0,632.1 L304.0,630.8 L305.0,629.4 L306.0,627.9 L307.0,626.5 L308.0,625.0 L309.0,623.4 L310.0,621.9 L311.0,620.3 L312.0,618.7 L313.0,617.0 L314.0,615.4 L315.0,613.8 L316.0,612.1 L317.0,610.5 L318.0,608.8 L319.0,607.2 L320.0,605.6 L321.0,604.0 L322.0,602.4 L323.0,600.8 L324.0,599.3 L325.0,597.8 L326.0,596.3 L327.0,594.9 L328.0,593.5 L329.0,592.2 L330.0,590.9 L331.0,589.6 L332.0,588.5 L333.0,587.3 L334.0,586.3 L335.0,585.3 L336.0,584.4 L337.0,583.6 L338.0,582.9 L339.0,582.2 L340.0,581.6 L341.0,581.2 L342.0,580.8 L343.0,580.5 L344.0,580.4 L345.0,580.3 L346.0,580.3 L347.0,580.5 L348.0,580.7 L349.0,581.1 L350.0,581.6 L351.0,582.2 L352.0,582.9 L353.0,583.8 L354.0,584.7 L355.0,585.8 L356.0,587.1 L357.0,588.4 L358.0,589.9 L359.0,591.5 L360.0,593.3 L361.0,595.2 L362.0,597.3 L363.0,599.5 L364.0,601.8 L365.0,604.3 L366.0,607.0 L367.0,609.8 L368.0,612.7 L369.0,615.8 L370.0,619.1 L371.0,622.6 L372.0,626.2 L373.0,630.0 L374.0,633.9 L375.0,638.0 L376.0,642.3 L377.0,646.8 L378.0,651.3 L379.0,655.9 L380.0,660.5 L381.0,665.2 L382.0,669.8 L383.0,674.4 L384.0,679.0 L385.0,683.4 L386.0,687.7 L387.0,691.9 L388.0,695.8 L389.0,699.6 C390.0,702.9 390.6,706.1 392.0,709.3 C393.5,712.8 395.5,716.9 397.7,719.8 C399.5,722.3 401.5,724.5 403.8,726.0 C406.0,727.4 407.7,727.9 411.2,728.6 C419.3,730.2 437.1,729.9 452.6,730.4 C472.3,731.1 495.1,731.6 520.0,732.2 C551.1,732.9 609.1,734.3 625.0,734.2 C629.6,734.2 631.0,734.0 634.0,733.9" fill="none" stroke="#e2302c" stroke-width="1.35" stroke-linejoin="round"/>
<path d="M96.1,720.7 C97.8,715.9 99.0,707.3 101.2,706.4 C102.4,705.9 103.7,708.0 105.3,708.4 C107.2,708.9 109.6,708.7 112.0,708.8 C114.7,708.9 118.4,709.2 120.7,708.9 C122.3,708.7 123.3,708.6 124.7,707.9 C126.6,707.0 129.0,704.9 130.9,703.3 C132.7,701.7 134.6,700.0 136.0,698.3 C137.3,696.6 138.0,694.8 139.0,693.0 L140.0,691.0 L141.0,688.8 L142.0,686.4 L143.0,683.9 L144.0,681.2 L145.0,678.4 L146.0,675.3 L147.0,672.1 L148.0,668.7 L149.0,665.2 L150.0,661.6 L151.0,657.8 L152.0,653.9 L153.0,650.0 L154.0,645.9 L155.0,641.8 L156.0,637.7 L157.0,633.5 L158.0,629.3 L159.0,625.1 L160.0,620.9 L161.0,616.8 L162.0,612.6 L163.0,608.6 L164.0,604.7 L165.0,601.0 L166.0,597.5 L167.0,594.2 L168.0,591.1 L169.0,588.3 L170.0,585.9 L171.0,583.7 L172.0,581.8 L173.0,580.3 L174.0,579.1 L175.0,578.2 L176.0,577.8 L177.0,577.7 L178.0,578.1 L179.0,578.9 L180.0,580.1 L181.0,581.8 L182.0,584.0 L183.0,586.5 L184.0,589.6 L185.0,592.9 L186.0,596.6 L187.0,600.6 L188.0,604.9 L189.0,609.4 L190.0,614.0 L191.0,618.8 L192.0,623.7 L193.0,628.7 L194.0,633.7 L195.0,638.7 L196.0,643.6 L197.0,648.5 L198.0,653.2 L199.0,657.8 L200.0,662.2 L201.0,666.3 L202.0,670.2 L203.0,673.7 L204.0,676.9 L205.0,679.7 L206.0,682.2 L207.0,684.3 L208.0,686.1 L209.0,687.6 L210.0,688.8 L211.0,689.7 L212.0,690.4 L213.0,690.8 L214.0,691.1 L215.0,691.1 L216.0,690.9 L217.0,690.6 L218.0,690.1 L219.0,689.4 L220.0,688.7 L221.0,687.9 L222.0,687.0 L223.0,686.0 L224.0,685.0 L225.0,683.9 L226.0,682.8 L227.0,681.8 L228.0,680.7 L229.0,679.7 L230.0,678.7 L231.0,677.7 L232.0,676.7 L233.0,675.7 L234.0,674.8 L235.0,673.8 L236.0,672.8 L237.0,671.8 L238.0,670.8 L239.0,669.8 L240.0,668.8 L241.0,667.7 L242.0,666.7 L243.0,665.6 L244.0,664.5 L245.0,663.3 L246.0,662.2 L247.0,661.0 L248.0,659.8 L249.0,658.5 L250.0,657.2 L251.0,655.8 L252.0,654.4 L253.0,653.0 L254.0,651.5 L255.0,650.0 L256.0,648.4 L257.0,646.7 L258.0,645.0 L259.0,643.2 L260.0,641.4 L261.0,639.6 L262.0,637.7 L263.0,635.7 L264.0,633.8 L265.0,631.7 L266.0,629.7 L267.0,627.6 L268.0,625.5 L269.0,623.3 L270.0,621.1 L271.0,618.9 L272.0,616.7 L273.0,614.4 L274.0,612.2 L275.0,609.9 L276.0,607.5 L277.0,605.2 L278.0,602.9 L279.0,600.5 L280.0,598.2 L281.0,595.8 L282.0,593.4 L283.0,591.0 L284.0,588.6 L285.0,586.3 L286.0,583.9 L287.0,581.5 L288.0,579.1 L289.0,576.8 L290.0,574.4 L291.0,572.1 L292.0,569.7 L293.0,567.4 L294.0,565.1 L295.0,562.9 L296.0,560.6 L297.0,558.4 L298.0,556.2 L299.0,554.0 L300.0,551.9 L301.0,549.8 L302.0,547.7 L303.0,545.6 L304.0,543.6 L305.0,541.7 L306.0,539.7 L307.0,537.9 L308.0,536.0 L309.0,534.2 L310.0,532.5 L311.0,530.8 L312.0,529.2 L313.0,527.6 L314.0,526.1 L315.0,524.6 L316.0,523.2 L317.0,521.8 L318.0,520.6 L319.0,519.3 L320.0,518.2 L321.0,517.1 L322.0,516.2 L323.0,515.3 L324.0,514.5 L325.0,513.8 L326.0,513.3 L327.0,512.9 L328.0,512.6 L329.0,512.5 L330.0,512.5 L331.0,512.7 L332.0,513.1 L333.0,513.7 L334.0,514.4 L335.0,515.4 L336.0,516.6 L337.0,518.0 L338.0,519.6 L339.0,521.5 L340.0,523.7 L341.0,526.1 L342.0,528.8 L343.0,531.7 L344.0,534.9 L345.0,538.5 L346.0,542.3 L347.0,546.5 L348.0,551.0 L349.0,555.7 L350.0,560.7 L351.0,566.0 L352.0,571.4 L353.0,577.0 L354.0,582.7 L355.0,588.6 L356.0,594.5 L357.0,600.5 L358.0,606.5 L359.0,612.5 L360.0,618.5 L361.0,624.4 L362.0,630.2 L363.0,636.0 L364.0,641.5 L365.0,646.9 L366.0,652.1 L367.0,657.1 L368.0,661.8 L369.0,666.3 L370.0,670.5 L371.0,674.6 L372.0,678.4 L373.0,682.0 L374.0,685.4 L375.0,688.6 L376.0,691.6 L377.0,694.4 L378.0,697.0 L379.0,699.5 L380.0,701.8 L381.0,703.9 L382.0,705.9 L383.0,707.7 L384.0,709.3 L385.0,710.9 L386.0,712.3 L387.0,713.6 L388.0,714.7 L389.0,715.8 C390.0,716.6 390.7,717.5 392.0,718.2 C393.8,719.2 396.3,719.9 399.0,720.5 C402.3,721.3 405.9,721.6 410.5,722.2 C417.1,723.1 426.1,724.3 435.0,725.1 C445.6,726.1 457.3,726.7 470.0,727.4 C485.2,728.2 503.1,728.8 520.0,729.5 C537.3,730.2 555.1,731.0 572.6,731.6 C590.1,732.2 614.9,731.8 625.1,733.0 C629.3,733.5 631.0,734.2 634.0,734.8" fill="none" stroke="#2fe6f2" stroke-width="1.35" stroke-linejoin="round"/>
<rect x="69.3" y="431.5" width="592.2" height="310.8" fill="none" stroke="#2a2a2a" stroke-width="1.3"/>
<line x1="64.0" y1="736.0" x2="73.5" y2="736.0" stroke="#2a2a2a" stroke-width="1.2"/>
<line x1="656.5" y1="736.0" x2="661.5" y2="736.0" stroke="#2a2a2a" stroke-width="1.2"/>
<line x1="66.8" y1="730.0" x2="72.0" y2="730.0" stroke="#2a2a2a" stroke-width="1.2"/>
<line x1="658.6" y1="730.0" x2="661.5" y2="730.0" stroke="#2a2a2a" stroke-width="1.2"/>
<line x1="66.8" y1="724.0" x2="72.0" y2="724.0" stroke="#2a2a2a" stroke-width="1.2"/>
<line x1="658.6" y1="724.0" x2="661.5" y2="724.0" stroke="#2a2a2a" stroke-width="1.2"/>
<line x1="66.8" y1="717.9" x2="72.0" y2="717.9" stroke="#2a2a2a" stroke-width="1.2"/>
<line x1="658.6" y1="717.9" x2="661.5" y2="717.9" stroke="#2a2a2a" stroke-width="1.2"/>
<line x1="66.8" y1="711.9" x2="72.0" y2="711.9" stroke="#2a2a2a" stroke-width="1.2"/>
<line x1="658.6" y1="711.9" x2="661.5" y2="711.9" stroke="#2a2a2a" stroke-width="1.2"/>
<line x1="64.0" y1="705.9" x2="73.5" y2="705.9" stroke="#2a2a2a" stroke-width="1.2"/>
<line x1="656.5" y1="705.9" x2="661.5" y2="705.9" stroke="#2a2a2a" stroke-width="1.2"/>
<line x1="66.8" y1="699.9" x2="72.0" y2="699.9" stroke="#2a2a2a" stroke-width="1.2"/>
<line x1="658.6" y1="699.9" x2="661.5" y2="699.9" stroke="#2a2a2a" stroke-width="1.2"/>
<line x1="66.8" y1="693.8" x2="72.0" y2="693.8" stroke="#2a2a2a" stroke-width="1.2"/>
<line x1="658.6" y1="693.8" x2="661.5" y2="693.8" stroke="#2a2a2a" stroke-width="1.2"/>
<line x1="66.8" y1="687.8" x2="72.0" y2="687.8" stroke="#2a2a2a" stroke-width="1.2"/>
<line x1="658.6" y1="687.8" x2="661.5" y2="687.8" stroke="#2a2a2a" stroke-width="1.2"/>
<line x1="66.8" y1="681.8" x2="72.0" y2="681.8" stroke="#2a2a2a" stroke-width="1.2"/>
<line x1="658.6" y1="681.8" x2="661.5" y2="681.8" stroke="#2a2a2a" stroke-width="1.2"/>
<line x1="64.0" y1="675.8" x2="73.5" y2="675.8" stroke="#2a2a2a" stroke-width="1.2"/>
<line x1="656.5" y1="675.8" x2="661.5" y2="675.8" stroke="#2a2a2a" stroke-width="1.2"/>
<line x1="66.8" y1="669.8" x2="72.0" y2="669.8" stroke="#2a2a2a" stroke-width="1.2"/>
<line x1="658.6" y1="669.8" x2="661.5" y2="669.8" stroke="#2a2a2a" stroke-width="1.2"/>
<line x1="66.8" y1="663.7" x2="72.0" y2="663.7" stroke="#2a2a2a" stroke-width="1.2"/>
<line x1="658.6" y1="663.7" x2="661.5" y2="663.7" stroke="#2a2a2a" stroke-width="1.2"/>
<line x1="66.8" y1="657.7" x2="72.0" y2="657.7" stroke="#2a2a2a" stroke-width="1.2"/>
<line x1="658.6" y1="657.7" x2="661.5" y2="657.7" stroke="#2a2a2a" stroke-width="1.2"/>
<line x1="66.8" y1="651.7" x2="72.0" y2="651.7" stroke="#2a2a2a" stroke-width="1.2"/>
<line x1="658.6" y1="651.7" x2="661.5" y2="651.7" stroke="#2a2a2a" stroke-width="1.2"/>
<line x1="64.0" y1="645.7" x2="73.5" y2="645.7" stroke="#2a2a2a" stroke-width="1.2"/>
<line x1="656.5" y1="645.7" x2="661.5" y2="645.7" stroke="#2a2a2a" stroke-width="1.2"/>
<line x1="66.8" y1="639.6" x2="72.0" y2="639.6" stroke="#2a2a2a" stroke-width="1.2"/>
<line x1="658.6" y1="639.6" x2="661.5" y2="639.6" stroke="#2a2a2a" stroke-width="1.2"/>
<line x1="66.8" y1="633.6" x2="72.0" y2="633.6" stroke="#2a2a2a" stroke-width="1.2"/>
<line x1="658.6" y1="633.6" x2="661.5" y2="633.6" stroke="#2a2a2a" stroke-width="1.2"/>
<line x1="66.8" y1="627.6" x2="72.0" y2="627.6" stroke="#2a2a2a" stroke-width="1.2"/>
<line x1="658.6" y1="627.6" x2="661.5" y2="627.6" stroke="#2a2a2a" stroke-width="1.2"/>
<line x1="66.8" y1="621.6" x2="72.0" y2="621.6" stroke="#2a2a2a" stroke-width="1.2"/>
<line x1="658.6" y1="621.6" x2="661.5" y2="621.6" stroke="#2a2a2a" stroke-width="1.2"/>
<line x1="64.0" y1="615.6" x2="73.5" y2="615.6" stroke="#2a2a2a" stroke-width="1.2"/>
<line x1="656.5" y1="615.6" x2="661.5" y2="615.6" stroke="#2a2a2a" stroke-width="1.2"/>
<line x1="66.8" y1="609.5" x2="72.0" y2="609.5" stroke="#2a2a2a" stroke-width="1.2"/>
<line x1="658.6" y1="609.5" x2="661.5" y2="609.5" stroke="#2a2a2a" stroke-width="1.2"/>
<line x1="66.8" y1="603.5" x2="72.0" y2="603.5" stroke="#2a2a2a" stroke-width="1.2"/>
<line x1="658.6" y1="603.5" x2="661.5" y2="603.5" stroke="#2a2a2a" stroke-width="1.2"/>
<line x1="66.8" y1="597.5" x2="72.0" y2="597.5" stroke="#2a2a2a" stroke-width="1.2"/>
<line x1="658.6" y1="597.5" x2="661.5" y2="597.5" stroke="#2a2a2a" stroke-width="1.2"/>
<line x1="66.8" y1="591.5" x2="72.0" y2="591.5" stroke="#2a2a2a" stroke-width="1.2"/>
<line x1="658.6" y1="591.5" x2="661.5" y2="591.5" stroke="#2a2a2a" stroke-width="1.2"/>
<line x1="64.0" y1="585.5" x2="73.5" y2="585.5" stroke="#2a2a2a" stroke-width="1.2"/>
<line x1="656.5" y1="585.5" x2="661.5" y2="585.5" stroke="#2a2a2a" stroke-width="1.2"/>
<line x1="66.8" y1="579.4" x2="72.0" y2="579.4" stroke="#2a2a2a" stroke-width="1.2"/>
<line x1="658.6" y1="579.4" x2="661.5" y2="579.4" stroke="#2a2a2a" stroke-width="1.2"/>
<line x1="66.8" y1="573.4" x2="72.0" y2="573.4" stroke="#2a2a2a" stroke-width="1.2"/>
<line x1="658.6" y1="573.4" x2="661.5" y2="573.4" stroke="#2a2a2a" stroke-width="1.2"/>
<line x1="66.8" y1="567.4" x2="72.0" y2="567.4" stroke="#2a2a2a" stroke-width="1.2"/>
<line x1="658.6" y1="567.4" x2="661.5" y2="567.4" stroke="#2a2a2a" stroke-width="1.2"/>
<line x1="66.8" y1="561.4" x2="72.0" y2="561.4" stroke="#2a2a2a" stroke-width="1.2"/>
<line x1="658.6" y1="561.4" x2="661.5" y2="561.4" stroke="#2a2a2a" stroke-width="1.2"/>
<line x1="64.0" y1="555.3" x2="73.5" y2="555.3" stroke="#2a2a2a" stroke-width="1.2"/>
<line x1="656.5" y1="555.3" x2="661.5" y2="555.3" stroke="#2a2a2a" stroke-width="1.2"/>
<line x1="66.8" y1="549.3" x2="72.0" y2="549.3" stroke="#2a2a2a" stroke-width="1.2"/>
<line x1="658.6" y1="549.3" x2="661.5" y2="549.3" stroke="#2a2a2a" stroke-width="1.2"/>
<line x1="66.8" y1="543.3" x2="72.0" y2="543.3" stroke="#2a2a2a" stroke-width="1.2"/>
<line x1="658.6" y1="543.3" x2="661.5" y2="543.3" stroke="#2a2a2a" stroke-width="1.2"/>
<line x1="66.8" y1="537.3" x2="72.0" y2="537.3" stroke="#2a2a2a" stroke-width="1.2"/>
<line x1="658.6" y1="537.3" x2="661.5" y2="537.3" stroke="#2a2a2a" stroke-width="1.2"/>
<line x1="66.8" y1="531.3" x2="72.0" y2="531.3" stroke="#2a2a2a" stroke-width="1.2"/>
<line x1="658.6" y1="531.3" x2="661.5" y2="531.3" stroke="#2a2a2a" stroke-width="1.2"/>
<line x1="64.0" y1="525.2" x2="73.5" y2="525.2" stroke="#2a2a2a" stroke-width="1.2"/>
<line x1="656.5" y1="525.2" x2="661.5" y2="525.2" stroke="#2a2a2a" stroke-width="1.2"/>
<line x1="66.8" y1="519.2" x2="72.0" y2="519.2" stroke="#2a2a2a" stroke-width="1.2"/>
<line x1="658.6" y1="519.2" x2="661.5" y2="519.2" stroke="#2a2a2a" stroke-width="1.2"/>
<line x1="66.8" y1="513.2" x2="72.0" y2="513.2" stroke="#2a2a2a" stroke-width="1.2"/>
<line x1="658.6" y1="513.2" x2="661.5" y2="513.2" stroke="#2a2a2a" stroke-width="1.2"/>
<line x1="66.8" y1="507.2" x2="72.0" y2="507.2" stroke="#2a2a2a" stroke-width="1.2"/>
<line x1="658.6" y1="507.2" x2="661.5" y2="507.2" stroke="#2a2a2a" stroke-width="1.2"/>
<line x1="66.8" y1="501.1" x2="72.0" y2="501.1" stroke="#2a2a2a" stroke-width="1.2"/>
<line x1="658.6" y1="501.1" x2="661.5" y2="501.1" stroke="#2a2a2a" stroke-width="1.2"/>
<line x1="64.0" y1="495.1" x2="73.5" y2="495.1" stroke="#2a2a2a" stroke-width="1.2"/>
<line x1="656.5" y1="495.1" x2="661.5" y2="495.1" stroke="#2a2a2a" stroke-width="1.2"/>
<line x1="66.8" y1="489.1" x2="72.0" y2="489.1" stroke="#2a2a2a" stroke-width="1.2"/>
<line x1="658.6" y1="489.1" x2="661.5" y2="489.1" stroke="#2a2a2a" stroke-width="1.2"/>
<line x1="66.8" y1="483.1" x2="72.0" y2="483.1" stroke="#2a2a2a" stroke-width="1.2"/>
<line x1="658.6" y1="483.1" x2="661.5" y2="483.1" stroke="#2a2a2a" stroke-width="1.2"/>
<line x1="66.8" y1="477.1" x2="72.0" y2="477.1" stroke="#2a2a2a" stroke-width="1.2"/>
<line x1="658.6" y1="477.1" x2="661.5" y2="477.1" stroke="#2a2a2a" stroke-width="1.2"/>
<line x1="66.8" y1="471.0" x2="72.0" y2="471.0" stroke="#2a2a2a" stroke-width="1.2"/>
<line x1="658.6" y1="471.0" x2="661.5" y2="471.0" stroke="#2a2a2a" stroke-width="1.2"/>
<line x1="64.0" y1="465.0" x2="73.5" y2="465.0" stroke="#2a2a2a" stroke-width="1.2"/>
<line x1="656.5" y1="465.0" x2="661.5" y2="465.0" stroke="#2a2a2a" stroke-width="1.2"/>
<line x1="66.8" y1="459.0" x2="72.0" y2="459.0" stroke="#2a2a2a" stroke-width="1.2"/>
<line x1="658.6" y1="459.0" x2="661.5" y2="459.0" stroke="#2a2a2a" stroke-width="1.2"/>
<line x1="66.8" y1="453.0" x2="72.0" y2="453.0" stroke="#2a2a2a" stroke-width="1.2"/>
<line x1="658.6" y1="453.0" x2="661.5" y2="453.0" stroke="#2a2a2a" stroke-width="1.2"/>
<line x1="66.8" y1="446.9" x2="72.0" y2="446.9" stroke="#2a2a2a" stroke-width="1.2"/>
<line x1="658.6" y1="446.9" x2="661.5" y2="446.9" stroke="#2a2a2a" stroke-width="1.2"/>
<line x1="66.8" y1="440.9" x2="72.0" y2="440.9" stroke="#2a2a2a" stroke-width="1.2"/>
<line x1="658.6" y1="440.9" x2="661.5" y2="440.9" stroke="#2a2a2a" stroke-width="1.2"/>
<line x1="64.0" y1="434.9" x2="73.5" y2="434.9" stroke="#2a2a2a" stroke-width="1.2"/>
<line x1="656.5" y1="434.9" x2="661.5" y2="434.9" stroke="#2a2a2a" stroke-width="1.2"/>
<line x1="96.0" y1="738.2" x2="96.0" y2="747.4" stroke="#2a2a2a" stroke-width="1.2"/>
<line x1="96.0" y1="431.5" x2="96.0" y2="436.8" stroke="#2a2a2a" stroke-width="1.2"/>
<line x1="122.9" y1="739.8" x2="122.9" y2="745.0" stroke="#2a2a2a" stroke-width="1.2"/>
<line x1="122.9" y1="431.5" x2="122.9" y2="435.0" stroke="#2a2a2a" stroke-width="1.2"/>
<line x1="149.8" y1="739.8" x2="149.8" y2="745.0" stroke="#2a2a2a" stroke-width="1.2"/>
<line x1="149.8" y1="431.5" x2="149.8" y2="435.0" stroke="#2a2a2a" stroke-width="1.2"/>
<line x1="176.7" y1="739.8" x2="176.7" y2="745.0" stroke="#2a2a2a" stroke-width="1.2"/>
<line x1="176.7" y1="431.5" x2="176.7" y2="435.0" stroke="#2a2a2a" stroke-width="1.2"/>
<line x1="203.6" y1="738.2" x2="203.6" y2="747.4" stroke="#2a2a2a" stroke-width="1.2"/>
<line x1="203.6" y1="431.5" x2="203.6" y2="436.8" stroke="#2a2a2a" stroke-width="1.2"/>
<line x1="230.5" y1="739.8" x2="230.5" y2="745.0" stroke="#2a2a2a" stroke-width="1.2"/>
<line x1="230.5" y1="431.5" x2="230.5" y2="435.0" stroke="#2a2a2a" stroke-width="1.2"/>
<line x1="257.4" y1="739.8" x2="257.4" y2="745.0" stroke="#2a2a2a" stroke-width="1.2"/>
<line x1="257.4" y1="431.5" x2="257.4" y2="435.0" stroke="#2a2a2a" stroke-width="1.2"/>
<line x1="284.3" y1="739.8" x2="284.3" y2="745.0" stroke="#2a2a2a" stroke-width="1.2"/>
<line x1="284.3" y1="431.5" x2="284.3" y2="435.0" stroke="#2a2a2a" stroke-width="1.2"/>
<line x1="311.2" y1="738.2" x2="311.2" y2="747.4" stroke="#2a2a2a" stroke-width="1.2"/>
<line x1="311.2" y1="431.5" x2="311.2" y2="436.8" stroke="#2a2a2a" stroke-width="1.2"/>
<line x1="338.1" y1="739.8" x2="338.1" y2="745.0" stroke="#2a2a2a" stroke-width="1.2"/>
<line x1="338.1" y1="431.5" x2="338.1" y2="435.0" stroke="#2a2a2a" stroke-width="1.2"/>
<line x1="365.0" y1="739.8" x2="365.0" y2="745.0" stroke="#2a2a2a" stroke-width="1.2"/>
<line x1="365.0" y1="431.5" x2="365.0" y2="435.0" stroke="#2a2a2a" stroke-width="1.2"/>
<line x1="391.9" y1="739.8" x2="391.9" y2="745.0" stroke="#2a2a2a" stroke-width="1.2"/>
<line x1="391.9" y1="431.5" x2="391.9" y2="435.0" stroke="#2a2a2a" stroke-width="1.2"/>
<line x1="418.8" y1="738.2" x2="418.8" y2="747.4" stroke="#2a2a2a" stroke-width="1.2"/>
<line x1="418.8" y1="431.5" x2="418.8" y2="436.8" stroke="#2a2a2a" stroke-width="1.2"/>
<line x1="445.7" y1="739.8" x2="445.7" y2="745.0" stroke="#2a2a2a" stroke-width="1.2"/>
<line x1="445.7" y1="431.5" x2="445.7" y2="435.0" stroke="#2a2a2a" stroke-width="1.2"/>
<line x1="472.6" y1="739.8" x2="472.6" y2="745.0" stroke="#2a2a2a" stroke-width="1.2"/>
<line x1="472.6" y1="431.5" x2="472.6" y2="435.0" stroke="#2a2a2a" stroke-width="1.2"/>
<line x1="499.5" y1="739.8" x2="499.5" y2="745.0" stroke="#2a2a2a" stroke-width="1.2"/>
<line x1="499.5" y1="431.5" x2="499.5" y2="435.0" stroke="#2a2a2a" stroke-width="1.2"/>
<line x1="526.4" y1="738.2" x2="526.4" y2="747.4" stroke="#2a2a2a" stroke-width="1.2"/>
<line x1="526.4" y1="431.5" x2="526.4" y2="436.8" stroke="#2a2a2a" stroke-width="1.2"/>
<line x1="553.3" y1="739.8" x2="553.3" y2="745.0" stroke="#2a2a2a" stroke-width="1.2"/>
<line x1="553.3" y1="431.5" x2="553.3" y2="435.0" stroke="#2a2a2a" stroke-width="1.2"/>
<line x1="580.2" y1="739.8" x2="580.2" y2="745.0" stroke="#2a2a2a" stroke-width="1.2"/>
<line x1="580.2" y1="431.5" x2="580.2" y2="435.0" stroke="#2a2a2a" stroke-width="1.2"/>
<line x1="607.1" y1="739.8" x2="607.1" y2="745.0" stroke="#2a2a2a" stroke-width="1.2"/>
<line x1="607.1" y1="431.5" x2="607.1" y2="435.0" stroke="#2a2a2a" stroke-width="1.2"/>
<line x1="634.0" y1="738.2" x2="634.0" y2="747.4" stroke="#2a2a2a" stroke-width="1.2"/>
<line x1="634.0" y1="431.5" x2="634.0" y2="436.8" stroke="#2a2a2a" stroke-width="1.2"/>
<line x1="660.9" y1="739.8" x2="660.9" y2="745.0" stroke="#2a2a2a" stroke-width="1.2"/>
<line x1="660.9" y1="431.5" x2="660.9" y2="435.0" stroke="#2a2a2a" stroke-width="1.2"/>
<text x="55.6" y="740.4" font-family="Liberation Sans" font-size="15" font-weight="normal" text-anchor="end" fill="#1a1a1a" >0</text>
<text x="55.6" y="710.3" font-family="Liberation Sans" font-size="15" font-weight="normal" text-anchor="end" fill="#1a1a1a" >1</text>
<text x="55.6" y="680.2" font-family="Liberation Sans" font-size="15" font-weight="normal" text-anchor="end" fill="#1a1a1a" >2</text>
<text x="55.6" y="650.1" font-family="Liberation Sans" font-size="15" font-weight="normal" text-anchor="end" fill="#1a1a1a" >3</text>
<text x="55.6" y="620.0" font-family="Liberation Sans" font-size="15" font-weight="normal" text-anchor="end" fill="#1a1a1a" >4</text>
<text x="55.6" y="589.9" font-family="Liberation Sans" font-size="15" font-weight="normal" text-anchor="end" fill="#1a1a1a" >5</text>
<text x="55.6" y="559.7" font-family="Liberation Sans" font-size="15" font-weight="normal" text-anchor="end" fill="#1a1a1a" >6</text>
<text x="55.6" y="529.6" font-family="Liberation Sans" font-size="15" font-weight="normal" text-anchor="end" fill="#1a1a1a" >7</text>
<text x="55.6" y="499.5" font-family="Liberation Sans" font-size="15" font-weight="normal" text-anchor="end" fill="#1a1a1a" >8</text>
<text x="55.6" y="469.4" font-family="Liberation Sans" font-size="15" font-weight="normal" text-anchor="end" fill="#1a1a1a" >9</text>
<text x="55.6" y="439.3" font-family="Liberation Sans" font-size="15" font-weight="normal" text-anchor="end" fill="#1a1a1a" >10</text>
<text x="96.0" y="767.0" font-family="Liberation Sans" font-size="15" font-weight="normal" text-anchor="middle" fill="#1a1a1a" >80</text>
<text x="203.6" y="767.0" font-family="Liberation Sans" font-size="15" font-weight="normal" text-anchor="middle" fill="#1a1a1a" >82</text>
<text x="311.2" y="767.0" font-family="Liberation Sans" font-size="15" font-weight="normal" text-anchor="middle" fill="#1a1a1a" >84</text>
<text x="418.8" y="767.0" font-family="Liberation Sans" font-size="15" font-weight="normal" text-anchor="middle" fill="#1a1a1a" >86</text>
<text x="526.4" y="767.0" font-family="Liberation Sans" font-size="15" font-weight="normal" text-anchor="middle" fill="#1a1a1a" >88</text>
<text x="634.0" y="767.0" font-family="Liberation Sans" font-size="15" font-weight="normal" text-anchor="middle" fill="#1a1a1a" >90</text>
<text x="342.7" y="419.3" font-family="Liberation Sans" font-size="12.9" font-weight="bold" text-anchor="middle" fill="#1a1a1a" >Melt Peak</text>
<text x="13.2" y="431.0" font-family="Liberation Sans" font-size="23.5" font-weight="normal" text-anchor="start" fill="#1a1a1a" >B</text>
<text x="365.2" y="790.6" font-family="Liberation Sans" font-size="14.5" font-weight="bold" text-anchor="middle" fill="#1a1a1a" >Temperature, Celsius</text>
<text x="0.0" y="0.0" font-family="Liberation Sans" font-size="14" font-weight="bold" text-anchor="middle" fill="#1a1a1a" letter-spacing="0.3" transform="translate(28.4,585.4) rotate(-90)">-d(RFU)/dT (10^3)</text>
<line x1="479.2" y1="489.0" x2="492.0" y2="489.0" stroke="#2fe6f2" stroke-width="2"/>
<text x="493.0" y="493.9" font-family="Liberation Sans" font-size="14.8" font-weight="normal" text-anchor="start" fill="#1a1a1a" letter-spacing="0.4">100 ng/&#956;L</text>
<line x1="479.2" y1="514.9" x2="492.0" y2="514.9" stroke="#e2302c" stroke-width="2"/>
<text x="493.0" y="519.8" font-family="Liberation Sans" font-size="14.8" font-weight="normal" text-anchor="start" fill="#1a1a1a" letter-spacing="0.4">10 ng/&#956;L</text>
<line x1="479.2" y1="540.9" x2="492.0" y2="540.9" stroke="#f7f02a" stroke-width="2"/>
<text x="493.0" y="545.8" font-family="Liberation Sans" font-size="14.8" font-weight="normal" text-anchor="start" fill="#1a1a1a" letter-spacing="0.4">1 ng/&#956;L</text>
<line x1="479.2" y1="566.8" x2="492.0" y2="566.8" stroke="#9a2cf0" stroke-width="2"/>
<text x="493.0" y="571.7" font-family="Liberation Sans" font-size="14.8" font-weight="normal" text-anchor="start" fill="#1a1a1a" letter-spacing="0.4">100 pg/&#956;L</text>
<line x1="479.2" y1="592.8" x2="492.0" y2="592.8" stroke="#2b8a2b" stroke-width="2"/>
<text x="493.0" y="597.7" font-family="Liberation Sans" font-size="14.8" font-weight="normal" text-anchor="start" fill="#1a1a1a" letter-spacing="0.4">10 pg/&#956;L</text>
<line x1="479.2" y1="618.7" x2="492.0" y2="618.7" stroke="#ee22ee" stroke-width="2"/>
<text x="493.0" y="623.6" font-family="Liberation Sans" font-size="14.8" font-weight="normal" text-anchor="start" fill="#1a1a1a" letter-spacing="0.4">1 pg/&#956;L</text>
<line x1="479.2" y1="644.6" x2="492.0" y2="644.6" stroke="#9060c8" stroke-width="2"/>
<text x="493.0" y="649.5" font-family="Liberation Sans" font-size="14.8" font-weight="normal" text-anchor="start" fill="#1a1a1a" letter-spacing="0.4">0.1 pg/&#956;L</text>
<line x1="479.2" y1="670.6" x2="492.0" y2="670.6" stroke="#111" stroke-width="2"/>
<text x="493.0" y="675.5" font-family="Liberation Sans" font-size="14.8" font-weight="normal" text-anchor="start" fill="#1a1a1a" letter-spacing="0.4">NC</text>
<rect x="2" y="825" width="681" height="235" fill="#0b0b0b"/>
<g clip-path="url(#gelclip)">
<rect x="165" y="868" width="51" height="130" fill="url(#lanehaze)" mask="url(#vfade)"/>
<rect x="167.0" y="1012.0" width="47.0" height="44.0" fill="#262626" filter="url(#bl4)"/>
<rect x="231.0" y="1012.0" width="48.0" height="44.0" fill="#262626" filter="url(#bl4)"/>
<rect x="297.0" y="1012.0" width="47.0" height="44.0" fill="#262626" filter="url(#bl4)"/>
<rect x="360.0" y="1012.0" width="48.0" height="44.0" fill="#262626" filter="url(#bl4)"/>
<rect x="425.0" y="1012.0" width="46.0" height="44.0" fill="#262626" filter="url(#bl4)"/>
<path d="M100.7,892.0 L148.3,892.0 L147.3,904.0 L101.7,904.0 Z" fill="#969696" fill-opacity="0.14" filter="url(#bl2)"/><path d="M100.4,894.0 C100.4,901.0 103.2,904.0 107.4,904.0 C117.3,904.8 131.7,904.8 141.6,904.0 C145.8,904.0 148.6,901.0 148.6,894.0" stroke="url(#hf0)" stroke-opacity="0.3" stroke-width="7.4" stroke-linecap="round" fill="none" filter="url(#bl3)"/><path d="M100.4,894.0 C100.4,901.0 103.2,904.0 107.4,904.0 C117.3,904.8 131.7,904.8 141.6,904.0 C145.8,904.0 148.6,901.0 148.6,894.0" stroke="url(#hf0)" stroke-width="3.4" stroke-linecap="round" fill="none" filter="url(#bl1b)"/>
<path d="M100.7,925.0 L148.3,925.0 L147.3,937.0 L101.7,937.0 Z" fill="#868686" fill-opacity="0.14" filter="url(#bl2)"/><path d="M100.4,927.0 C100.4,934.0 103.2,937.0 107.4,937.0 C117.3,937.8 131.7,937.8 141.6,937.0 C145.8,937.0 148.6,934.0 148.6,927.0" stroke="url(#hf1)" stroke-opacity="0.3" stroke-width="7.4" stroke-linecap="round" fill="none" filter="url(#bl3)"/><path d="M100.4,927.0 C100.4,934.0 103.2,937.0 107.4,937.0 C117.3,937.8 131.7,937.8 141.6,937.0 C145.8,937.0 148.6,934.0 148.6,927.0" stroke="url(#hf1)" stroke-width="3.4" stroke-linecap="round" fill="none" filter="url(#bl1b)"/>
<path d="M102.2,948.0 C102.2,950.1 106.2,951.0 112.2,951.0 C117.8,951.8 131.2,951.8 136.8,951.0 C142.8,951.0 146.8,950.1 146.8,948.0" stroke="#ffffff" stroke-opacity="0.4" stroke-width="11.0" stroke-linecap="round" fill="none" filter="url(#bl3)"/><path d="M102.2,948.0 C102.2,950.1 106.2,951.0 112.2,951.0 C117.8,951.8 131.2,951.8 136.8,951.0 C142.8,951.0 146.8,950.1 146.8,948.0" stroke="#ffffff" stroke-width="7.0" stroke-linecap="round" fill="none" filter="url(#bl1)"/>
<path d="M100.8,969.0 C100.8,970.8 104.8,971.5 110.8,971.5 C117.4,972.3 131.6,972.3 138.2,971.5 C144.2,971.5 148.2,970.8 148.2,969.0" stroke="#c0c0c0" stroke-opacity="0.3" stroke-width="8.2" stroke-linecap="round" fill="none" filter="url(#bl3)"/><path d="M100.8,969.0 C100.8,970.8 104.8,971.5 110.8,971.5 C117.4,972.3 131.6,972.3 138.2,971.5 C144.2,971.5 148.2,970.8 148.2,969.0" stroke="#c0c0c0" stroke-width="4.2" stroke-linecap="round" fill="none" filter="url(#bl1)"/>
<path d="M101.0,1005.5 L148.1,1005.5" stroke="#888888" stroke-opacity="0.3" stroke-width="8.5" stroke-linecap="round" fill="none" filter="url(#bl3)"/><path d="M101.0,1005.5 L148.1,1005.5" stroke="#888888" stroke-width="4.5" stroke-linecap="round" fill="none" filter="url(#bl2)"/>
<path d="M102.2,1040.5 L146.8,1040.5" stroke="#747474" stroke-opacity="0.3" stroke-width="11.0" stroke-linecap="round" fill="none" filter="url(#bl3)"/><path d="M102.2,1040.5 L146.8,1040.5" stroke="#747474" stroke-width="7.0" stroke-linecap="round" fill="none" filter="url(#bl2)"/>
<path d="M620.2,891.0 L667.3,891.0 L666.3,903.0 L621.2,903.0 Z" fill="#969696" fill-opacity="0.14" filter="url(#bl2)"/><path d="M619.9,893.0 C619.9,900.0 622.7,903.0 626.9,903.0 C636.6,903.8 650.9,903.8 660.6,903.0 C664.8,903.0 667.6,900.0 667.6,893.0" stroke="url(#hf2)" stroke-opacity="0.3" stroke-width="7.4" stroke-linecap="round" fill="none" filter="url(#bl3)"/><path d="M619.9,893.0 C619.9,900.0 622.7,903.0 626.9,903.0 C636.6,903.8 650.9,903.8 660.6,903.0 C664.8,903.0 667.6,900.0 667.6,893.0" stroke="url(#hf2)" stroke-width="3.4" stroke-linecap="round" fill="none" filter="url(#bl1b)"/>
<path d="M620.2,923.2 L667.3,923.2 L666.3,935.2 L621.2,935.2 Z" fill="#868686" fill-opacity="0.14" filter="url(#bl2)"/><path d="M619.9,925.2 C619.9,932.2 622.7,935.2 626.9,935.2 C636.6,936.0 650.9,936.0 660.6,935.2 C664.8,935.2 667.6,932.2 667.6,925.2" stroke="url(#hf3)" stroke-opacity="0.3" stroke-width="7.4" stroke-linecap="round" fill="none" filter="url(#bl3)"/><path d="M619.9,925.2 C619.9,932.2 622.7,935.2 626.9,935.2 C636.6,936.0 650.9,936.0 660.6,935.2 C664.8,935.2 667.6,932.2 667.6,925.2" stroke="url(#hf3)" stroke-width="3.4" stroke-linecap="round" fill="none" filter="url(#bl1b)"/>
<path d="M621.7,946.3 C621.7,948.4 625.7,949.3 631.7,949.3 C637.1,950.1 650.4,950.1 655.8,949.3 C661.8,949.3 665.8,948.4 665.8,946.3" stroke="#ffffff" stroke-opacity="0.4" stroke-width="11.0" stroke-linecap="round" fill="none" filter="url(#bl3)"/><path d="M621.7,946.3 C621.7,948.4 625.7,949.3 631.7,949.3 C637.1,950.1 650.4,950.1 655.8,949.3 C661.8,949.3 665.8,948.4 665.8,946.3" stroke="#ffffff" stroke-width="7.0" stroke-linecap="round" fill="none" filter="url(#bl1)"/>
<path d="M620.3,966.9 C620.3,968.6 624.3,969.4 630.3,969.4 C636.7,970.2 650.8,970.2 657.2,969.4 C663.2,969.4 667.2,968.6 667.2,966.9" stroke="#c0c0c0" stroke-opacity="0.3" stroke-width="8.2" stroke-linecap="round" fill="none" filter="url(#bl3)"/><path d="M620.3,966.9 C620.3,968.6 624.3,969.4 630.3,969.4 C636.7,970.2 650.8,970.2 657.2,969.4 C663.2,969.4 667.2,968.6 667.2,966.9" stroke="#c0c0c0" stroke-width="4.2" stroke-linecap="round" fill="none" filter="url(#bl1)"/>
<path d="M620.5,1004.3 L667.0,1004.3" stroke="#888888" stroke-opacity="0.3" stroke-width="8.5" stroke-linecap="round" fill="none" filter="url(#bl3)"/><path d="M620.5,1004.3 L667.0,1004.3" stroke="#888888" stroke-width="4.5" stroke-linecap="round" fill="none" filter="url(#bl2)"/>
<path d="M621.7,1037.8 L665.8,1037.8" stroke="#747474" stroke-opacity="0.3" stroke-width="11.0" stroke-linecap="round" fill="none" filter="url(#bl3)"/><path d="M621.7,1037.8 L665.8,1037.8" stroke="#747474" stroke-width="7.0" stroke-linecap="round" fill="none" filter="url(#bl2)"/>
<path d="M168.0,1003.5 L213.0,1003.5 L212.0,1014.0 L169.0,1014.0 Z" fill="#ffffff" fill-opacity="0.55" filter="url(#bl2)"/>
<path d="M170.5,1006.5 C170.5,1011.8 174.1,1014.0 179.5,1014.0 C184.5,1014.8 196.5,1014.8 201.5,1014.0 C206.9,1014.0 210.5,1011.8 210.5,1006.5" stroke="#ffffff" stroke-opacity="0.45" stroke-width="15.0" stroke-linecap="round" fill="none" filter="url(#bl3)"/><path d="M170.5,1006.5 C170.5,1011.8 174.1,1014.0 179.5,1014.0 C184.5,1014.8 196.5,1014.8 201.5,1014.0 C206.9,1014.0 210.5,1011.8 210.5,1006.5" stroke="#ffffff" stroke-width="11.0" stroke-linecap="round" fill="none" filter="url(#bl1)"/>
<path d="M169.6,1039.5 L211.4,1039.5" stroke="#f8f8f8" stroke-opacity="0.4" stroke-width="13.2" stroke-linecap="round" fill="none" filter="url(#bl3)"/><path d="M169.6,1039.5 L211.4,1039.5" stroke="#f8f8f8" stroke-width="9.2" stroke-linecap="round" fill="none" filter="url(#bl1)"/>
<path d="M232.0,1002.5 L278.0,1002.5 L277.0,1012.5 L233.0,1012.5 Z" fill="#ffffff" fill-opacity="0.55" filter="url(#bl2)"/>
<path d="M234.2,1005.5 C234.2,1010.4 237.8,1012.5 243.2,1012.5 C248.8,1013.3 261.2,1013.3 266.8,1012.5 C272.1,1012.5 275.8,1010.4 275.8,1005.5" stroke="#ffffff" stroke-opacity="0.45" stroke-width="14.5" stroke-linecap="round" fill="none" filter="url(#bl3)"/><path d="M234.2,1005.5 C234.2,1010.4 237.8,1012.5 243.2,1012.5 C248.8,1013.3 261.2,1013.3 266.8,1012.5 C272.1,1012.5 275.8,1010.4 275.8,1005.5" stroke="#ffffff" stroke-width="10.5" stroke-linecap="round" fill="none" filter="url(#bl1)"/>
<path d="M233.5,1039.0 L276.5,1039.0" stroke="#f4f4f4" stroke-opacity="0.4" stroke-width="13.0" stroke-linecap="round" fill="none" filter="url(#bl3)"/><path d="M233.5,1039.0 L276.5,1039.0" stroke="#f4f4f4" stroke-width="9.0" stroke-linecap="round" fill="none" filter="url(#bl1)"/>
<path d="M298.0,999.5 L343.0,999.5 L342.0,1007.5 L299.0,1007.5 Z" fill="#ffffff" fill-opacity="0.55" filter="url(#bl2)"/>
<path d="M299.2,1002.5 C299.2,1006.0 302.9,1007.5 308.2,1007.5 C314.1,1008.3 326.9,1008.3 332.8,1007.5 C338.1,1007.5 341.8,1006.0 341.8,1002.5" stroke="#ffffff" stroke-opacity="0.45" stroke-width="12.5" stroke-linecap="round" fill="none" filter="url(#bl3)"/><path d="M299.2,1002.5 C299.2,1006.0 302.9,1007.5 308.2,1007.5 C314.1,1008.3 326.9,1008.3 332.8,1007.5 C338.1,1007.5 341.8,1006.0 341.8,1002.5" stroke="#ffffff" stroke-width="8.5" stroke-linecap="round" fill="none" filter="url(#bl1)"/>
<path d="M299.1,1037.8 L341.9,1037.8" stroke="#eaeaea" stroke-opacity="0.4" stroke-width="12.2" stroke-linecap="round" fill="none" filter="url(#bl3)"/><path d="M299.1,1037.8 L341.9,1037.8" stroke="#eaeaea" stroke-width="8.2" stroke-linecap="round" fill="none" filter="url(#bl1)"/>
<path d="M361.0,998.0 L407.0,998.0 L406.0,1004.5 L362.0,1004.5 Z" fill="#e8e8e8" fill-opacity="0.55" filter="url(#bl2)"/>
<path d="M362.2,1001.0 C362.2,1003.5 365.9,1004.5 371.2,1004.5 C377.5,1005.3 390.5,1005.3 396.8,1004.5 C402.1,1004.5 405.8,1003.5 405.8,1001.0" stroke="#e8e8e8" stroke-opacity="0.45" stroke-width="12.5" stroke-linecap="round" fill="none" filter="url(#bl3)"/><path d="M362.2,1001.0 C362.2,1003.5 365.9,1004.5 371.2,1004.5 C377.5,1005.3 390.5,1005.3 396.8,1004.5 C402.1,1004.5 405.8,1003.5 405.8,1001.0" stroke="#e8e8e8" stroke-width="8.5" stroke-linecap="round" fill="none" filter="url(#bl1b)"/>
<path d="M362.0,1037.8 L406.0,1037.8" stroke="#cccccc" stroke-opacity="0.4" stroke-width="12.0" stroke-linecap="round" fill="none" filter="url(#bl3)"/><path d="M362.0,1037.8 L406.0,1037.8" stroke="#cccccc" stroke-width="8.0" stroke-linecap="round" fill="none" filter="url(#bl1b)"/>
<rect x="361.0" y="1044.0" width="46.0" height="14.0" fill="#2a2a2a" filter="url(#bl2)"/>
<path d="M426.0,998.0 L470.0,998.0 L469.0,1004.5 L427.0,1004.5 Z" fill="#d4d4d4" fill-opacity="0.55" filter="url(#bl2)"/>
<path d="M426.5,1001.0 C426.5,1003.5 430.1,1004.5 435.5,1004.5 C441.6,1005.3 454.4,1005.3 460.5,1004.5 C465.9,1004.5 469.5,1003.5 469.5,1001.0" stroke="#d4d4d4" stroke-opacity="0.45" stroke-width="11.0" stroke-linecap="round" fill="none" filter="url(#bl3)"/><path d="M426.5,1001.0 C426.5,1003.5 430.1,1004.5 435.5,1004.5 C441.6,1005.3 454.4,1005.3 460.5,1004.5 C465.9,1004.5 469.5,1003.5 469.5,1001.0" stroke="#d4d4d4" stroke-width="7.0" stroke-linecap="round" fill="none" filter="url(#bl1b)"/>
<path d="M426.5,1037.8 L469.5,1037.8" stroke="#c0c0c0" stroke-opacity="0.4" stroke-width="11.0" stroke-linecap="round" fill="none" filter="url(#bl3)"/><path d="M426.5,1037.8 L469.5,1037.8" stroke="#c0c0c0" stroke-width="7.0" stroke-linecap="round" fill="none" filter="url(#bl1b)"/>
<rect x="426.0" y="1044.0" width="44.0" height="14.0" fill="#2a2a2a" filter="url(#bl2)"/>
</g>
<text x="8.6" y="859.8" font-family="Liberation Serif" font-size="40" font-weight="normal" text-anchor="start" fill="#fff" >C</text>
<text x="126.3" y="866.8" font-family="Liberation Serif" font-size="36.5" font-weight="normal" text-anchor="middle" fill="#fff" >M</text>
<text x="189.0" y="866.8" font-family="Liberation Serif" font-size="35" font-weight="normal" text-anchor="middle" fill="#fff" >1</text>
<text x="252.5" y="866.8" font-family="Liberation Serif" font-size="35" font-weight="normal" text-anchor="middle" fill="#fff" >2</text>
<text x="316.7" y="866.8" font-family="Liberation Serif" font-size="35" font-weight="normal" text-anchor="middle" fill="#fff" >3</text>
<text x="381.6" y="866.8" font-family="Liberation Serif" font-size="35" font-weight="normal" text-anchor="middle" fill="#fff" >4</text>
<text x="446.2" y="866.8" font-family="Liberation Serif" font-size="35" font-weight="normal" text-anchor="middle" fill="#fff" >5</text>
<text x="511.2" y="866.8" font-family="Liberation Serif" font-size="35" font-weight="normal" text-anchor="middle" fill="#fff" >6</text>
<text x="573.3" y="866.8" font-family="Liberation Serif" font-size="35" font-weight="normal" text-anchor="middle" fill="#fff" >7</text>
<text x="638.2" y="866.8" font-family="Liberation Serif" font-size="36.5" font-weight="normal" text-anchor="middle" fill="#fff" >M</text>
<text x="7.8" y="1012.3" font-family="Liberation Serif" font-size="29.5" font-weight="normal" text-anchor="start" fill="#fff" >250bp</text>
<text x="7.8" y="1046.8" font-family="Liberation Serif" font-size="29.5" font-weight="normal" text-anchor="start" fill="#fff" >100bp</text>
<path d="M476,1000.8 L501,1000.8" stroke="#fff" stroke-width="1.3" fill="none"/><path d="M482,996.2 Q479.5,999.6 475.2,1000.8 Q479.5,1002.0 482,1005.4" stroke="#fff" stroke-width="1.3" fill="none"/>
<path d="M476,1035.8 L501,1035.8" stroke="#fff" stroke-width="1.3" fill="none"/><path d="M482,1031.2 Q479.5,1034.6 475.2,1035.8 Q479.5,1037.0 482,1040.4" stroke="#fff" stroke-width="1.3" fill="none"/>
<text x="502.4" y="1005.3" font-family="Liberation Serif" font-size="22.2" font-weight="normal" text-anchor="start" fill="#fff" >gyrB 285bp</text>
<text x="502.4" y="1041.2" font-family="Liberation Serif" font-size="22.2" font-weight="normal" text-anchor="start" fill="#fff" ><tspan font-style="italic">fim</tspan>Y 112bp</text>
</svg>
</body></html>
